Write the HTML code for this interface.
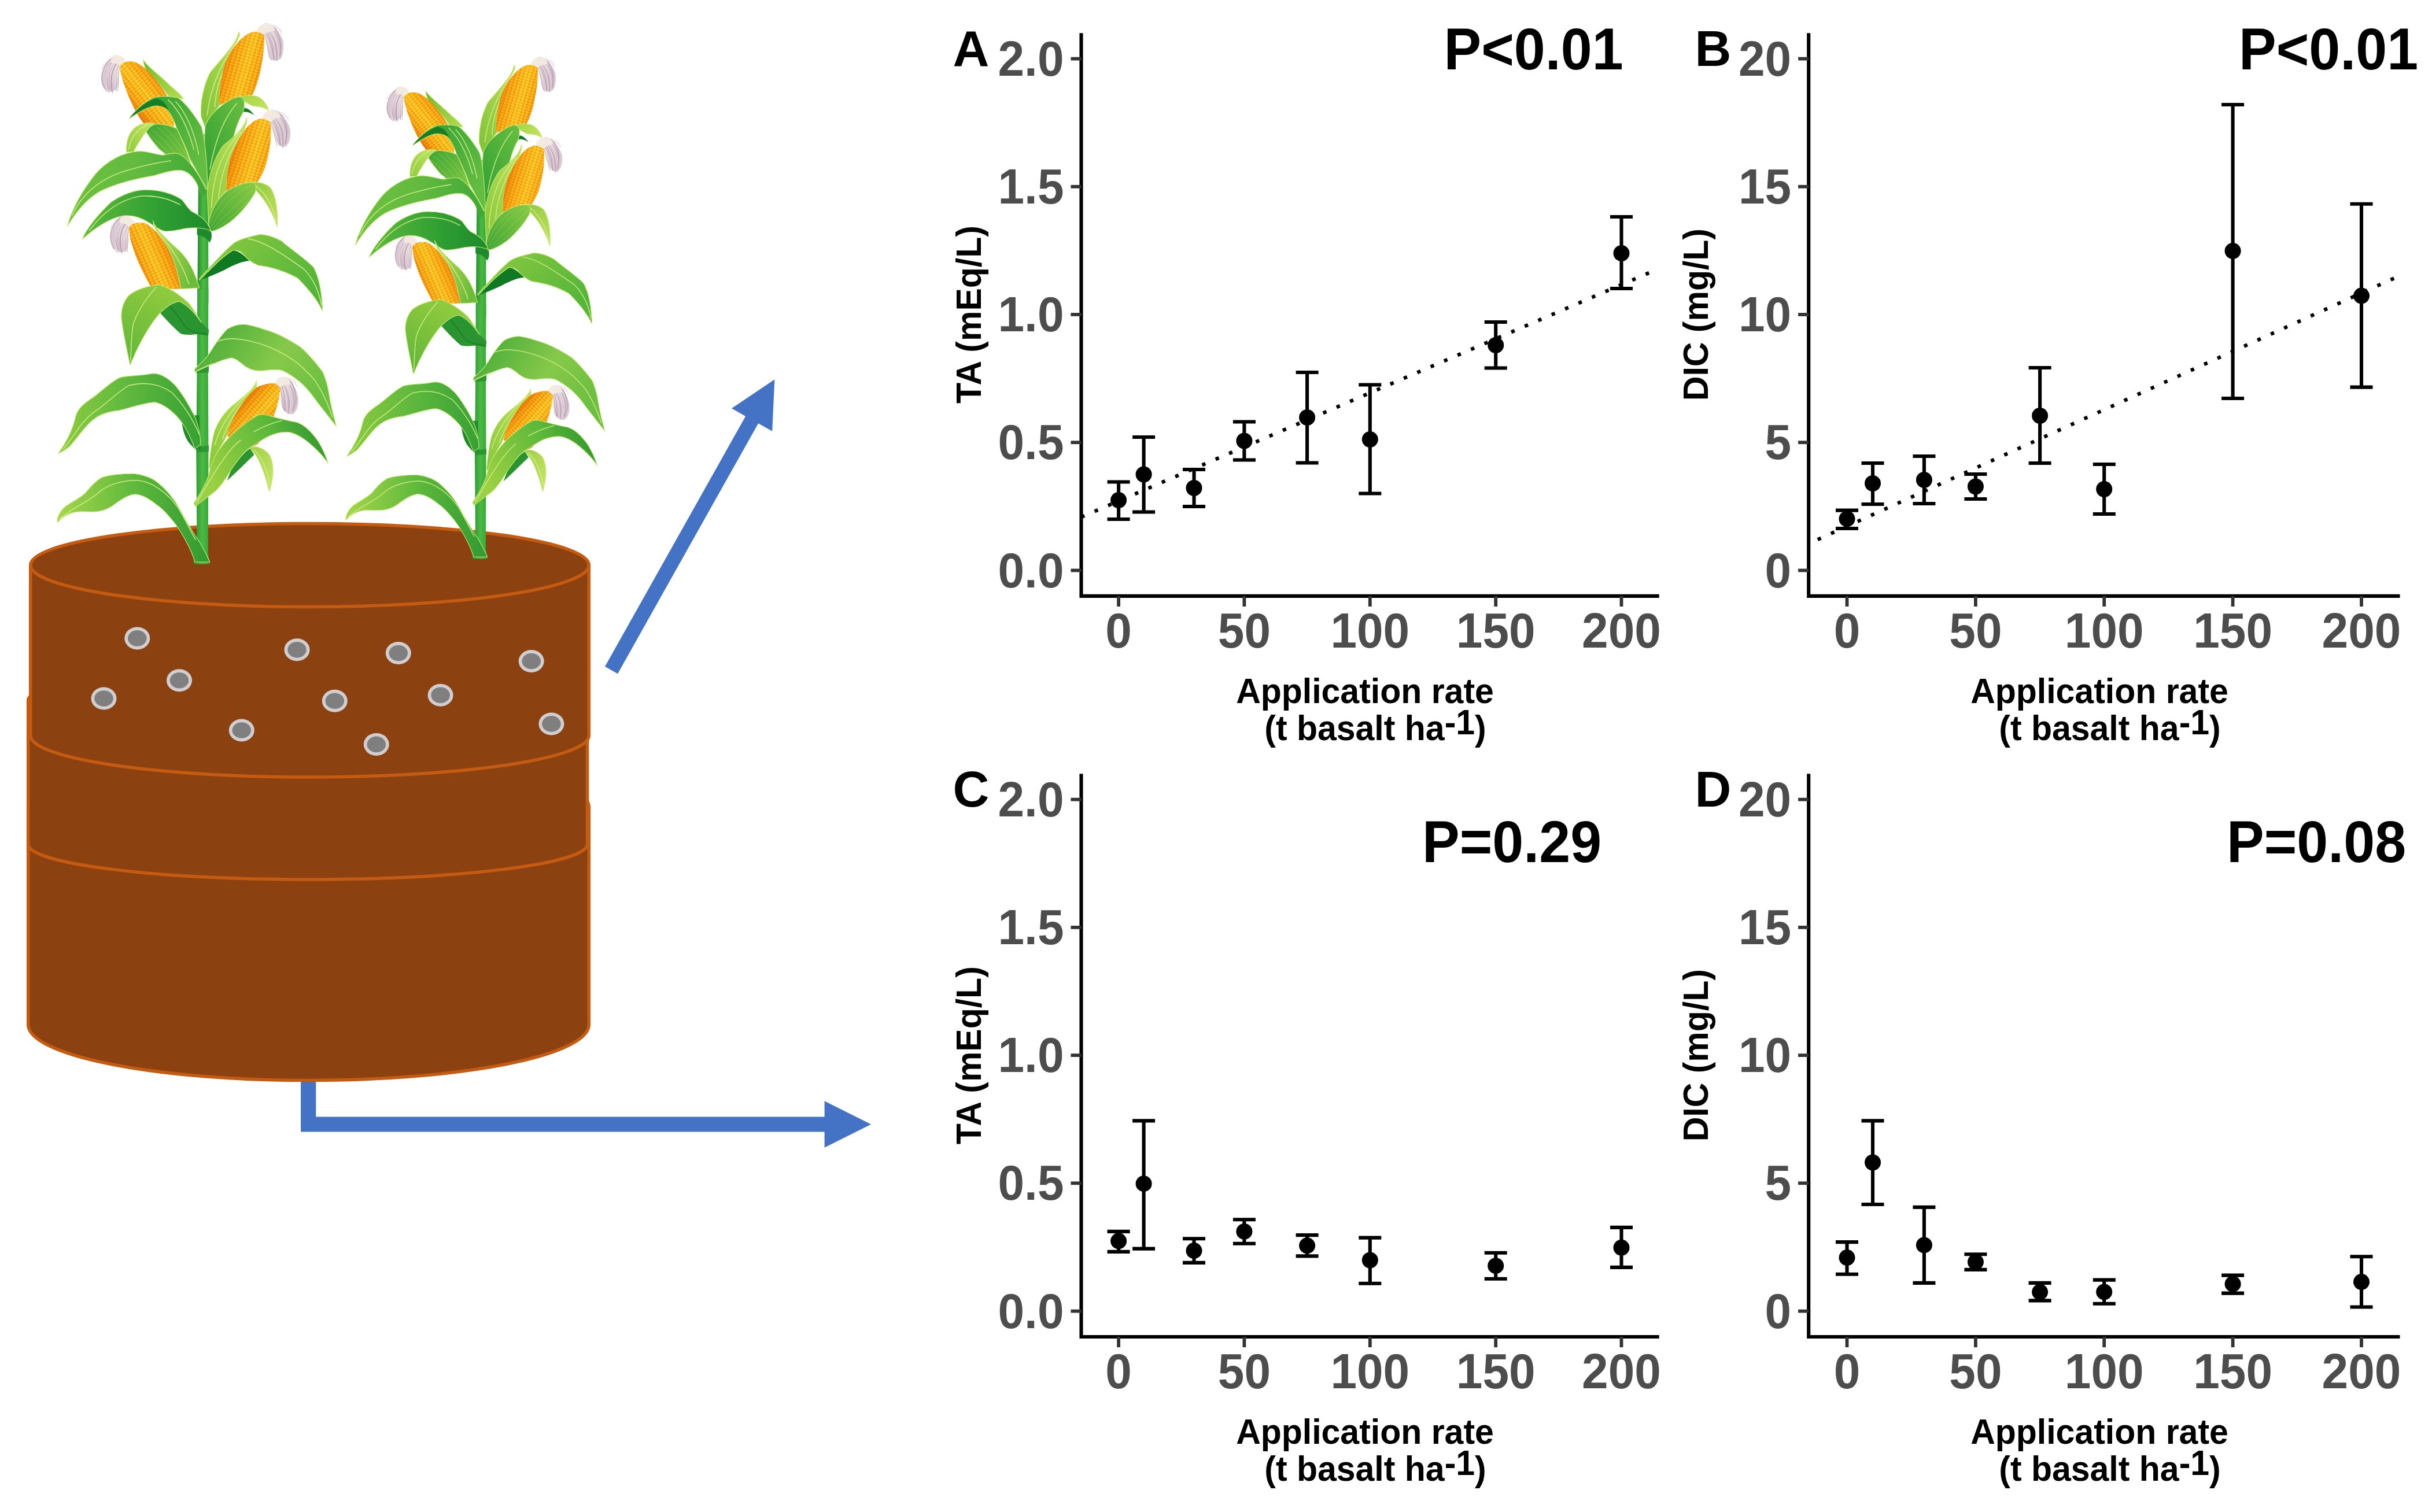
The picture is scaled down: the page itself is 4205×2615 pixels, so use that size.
<!DOCTYPE html>
<html lang="en"><head><meta charset="utf-8"><title>Figure</title>
<style>
html,body{margin:0;padding:0;background:#fff}
svg{display:block}
text{font-family:"Liberation Sans", Arial, Helvetica, sans-serif;font-weight:700}
.tk{font-size:82px;fill:#4d4d4d}
.ax{font-size:59px;fill:#000}
.sup{font-size:50px}
.pl{font-size:87px;fill:#000}
.pv{font-size:97px;fill:#000}
</style></head><body>
<svg width="4205" height="2615" viewBox="0 0 4205 2615">
<rect width="4205" height="2615" fill="#fff"/>
<defs>
<linearGradient id="g1" x1="0" y1="0" x2="1" y2="0"><stop offset="0" stop-color="#22902a"/><stop offset="0.55" stop-color="#4cb944"/><stop offset="1" stop-color="#34a636"/></linearGradient>
<linearGradient id="g2" x1="0" y1="0" x2="1" y2="1"><stop offset="0" stop-color="#6fb92f"/><stop offset="1" stop-color="#b5dc4e"/></linearGradient>
<pattern id="k3" width="7.4" height="5.4" patternUnits="userSpaceOnUse" patternTransform="rotate(-38) scale(6.0467)"><rect width="7.4" height="5.4" fill="#e8800a"/><rect x="0.55" y="0.5" width="6.3" height="4.4" rx="1.5" fill="#ffc31a"/><rect x="1.3" y="1.1" width="3.6" height="2.4" rx="1.1" fill="#ffd83a" opacity="0.7"/></pattern>
<linearGradient id="c4" gradientUnits="userSpaceOnUse" x1="760" y1="430" x2="440" y2="700"><stop offset="0" stop-color="#e06a00" stop-opacity="0.75"/><stop offset="0.28" stop-color="#f59a10" stop-opacity="0.35"/><stop offset="0.55" stop-color="#ffe23a" stop-opacity="0.35"/><stop offset="0.8" stop-color="#f59a10" stop-opacity="0.3"/><stop offset="1" stop-color="#e06a00" stop-opacity="0.7"/></linearGradient>
<radialGradient id="s5" cx="0.85" cy="0.15" r="0.8"><stop offset="0" stop-color="#f6efe4"/><stop offset="0.3" stop-color="#eadcd8"/><stop offset="0.65" stop-color="#d3bcc6"/><stop offset="1" stop-color="#c0a4b5"/></radialGradient>
<linearGradient id="g6" x1="0" y1="1" x2="1" y2="0"><stop offset="0" stop-color="#7cc237"/><stop offset="1" stop-color="#bfe058"/></linearGradient>
<pattern id="k7" width="7.4" height="5.4" patternUnits="userSpaceOnUse" patternTransform="rotate(16) scale(6.0467)"><rect width="7.4" height="5.4" fill="#e8800a"/><rect x="0.55" y="0.5" width="6.3" height="4.4" rx="1.5" fill="#ffc31a"/><rect x="1.3" y="1.1" width="3.6" height="2.4" rx="1.1" fill="#ffd83a" opacity="0.7"/></pattern>
<linearGradient id="c8" gradientUnits="userSpaceOnUse" x1="330" y1="560" x2="760" y2="680"><stop offset="0" stop-color="#e06a00" stop-opacity="0.75"/><stop offset="0.28" stop-color="#f59a10" stop-opacity="0.35"/><stop offset="0.55" stop-color="#ffe23a" stop-opacity="0.35"/><stop offset="0.8" stop-color="#f59a10" stop-opacity="0.3"/><stop offset="1" stop-color="#e06a00" stop-opacity="0.7"/></linearGradient>
<radialGradient id="s9" cx="0.12" cy="0.1" r="0.8"><stop offset="0" stop-color="#f6efe4"/><stop offset="0.3" stop-color="#eadcd8"/><stop offset="0.65" stop-color="#d3bcc6"/><stop offset="1" stop-color="#c0a4b5"/></radialGradient>
<linearGradient id="g10" x1="0" y1="0" x2="1" y2="1"><stop offset="0" stop-color="#a4d445"/><stop offset="1" stop-color="#c6e462"/></linearGradient>
<linearGradient id="g11" x1="0" y1="1" x2="1" y2="0"><stop offset="0" stop-color="#2f9e33"/><stop offset="1" stop-color="#69bf40"/></linearGradient>
<linearGradient id="g12" x1="0" y1="1" x2="1" y2="0"><stop offset="0" stop-color="#86c83a"/><stop offset="1" stop-color="#c2e25c"/></linearGradient>
<pattern id="k13" width="7.4" height="5.4" patternUnits="userSpaceOnUse" patternTransform="rotate(18) scale(6.0467)"><rect width="7.4" height="5.4" fill="#e8800a"/><rect x="0.55" y="0.5" width="6.3" height="4.4" rx="1.5" fill="#ffc31a"/><rect x="1.3" y="1.1" width="3.6" height="2.4" rx="1.1" fill="#ffd83a" opacity="0.7"/></pattern>
<linearGradient id="c14" gradientUnits="userSpaceOnUse" x1="400" y1="1560" x2="830" y2="1680"><stop offset="0" stop-color="#e06a00" stop-opacity="0.75"/><stop offset="0.28" stop-color="#f59a10" stop-opacity="0.35"/><stop offset="0.55" stop-color="#ffe23a" stop-opacity="0.35"/><stop offset="0.8" stop-color="#f59a10" stop-opacity="0.3"/><stop offset="1" stop-color="#e06a00" stop-opacity="0.7"/></linearGradient>
<radialGradient id="s15" cx="0.1" cy="0.1" r="0.8"><stop offset="0" stop-color="#f6efe4"/><stop offset="0.3" stop-color="#eadcd8"/><stop offset="0.65" stop-color="#d3bcc6"/><stop offset="1" stop-color="#c0a4b5"/></radialGradient>
<linearGradient id="g16" x1="0" y1="0" x2="1" y2="1"><stop offset="0" stop-color="#3fa535"/><stop offset="1" stop-color="#86cb43"/></linearGradient>
<linearGradient id="g17" x1="0" y1="1" x2="1" y2="0"><stop offset="0" stop-color="#8fcb3d"/><stop offset="1" stop-color="#c4e463"/></linearGradient>
<linearGradient id="g18" x1="0" y1="0" x2="1" y2="0.6"><stop offset="0" stop-color="#2c9a30"/><stop offset="1" stop-color="#63bd42"/></linearGradient>
<linearGradient id="g19" x1="0" y1="0" x2="1" y2="1"><stop offset="0" stop-color="#8cc63f"/><stop offset="1" stop-color="#c1e25e"/></linearGradient>
<linearGradient id="g20" x1="0" y1="1" x2="1" y2="0"><stop offset="0" stop-color="#3ea535"/><stop offset="1" stop-color="#8acb45"/></linearGradient>
<linearGradient id="g21" x1="0" y1="0" x2="1" y2="0"><stop offset="0" stop-color="#6cc03e"/><stop offset="0.5" stop-color="#62bb3f"/><stop offset="1" stop-color="#3fa836"/></linearGradient>
<linearGradient id="g22" x1="0" y1="0" x2="1" y2="0"><stop offset="0" stop-color="#5fba3c"/><stop offset="0.6" stop-color="#2f9f33"/><stop offset="1" stop-color="#1c8a2b"/></linearGradient>
<pattern id="k23" width="7.4" height="5.4" patternUnits="userSpaceOnUse" patternTransform="rotate(-24) scale(6.0467)"><rect width="7.4" height="5.4" fill="#e8800a"/><rect x="0.55" y="0.5" width="6.3" height="4.4" rx="1.5" fill="#ffc31a"/><rect x="1.3" y="1.1" width="3.6" height="2.4" rx="1.1" fill="#ffd83a" opacity="0.7"/></pattern>
<linearGradient id="c24" gradientUnits="userSpaceOnUse" x1="1180" y1="1150" x2="820" y2="1300"><stop offset="0" stop-color="#e06a00" stop-opacity="0.75"/><stop offset="0.28" stop-color="#f59a10" stop-opacity="0.35"/><stop offset="0.55" stop-color="#ffe23a" stop-opacity="0.35"/><stop offset="0.8" stop-color="#f59a10" stop-opacity="0.3"/><stop offset="1" stop-color="#e06a00" stop-opacity="0.7"/></linearGradient>
<radialGradient id="s25" cx="0.85" cy="0.12" r="0.8"><stop offset="0" stop-color="#f6efe4"/><stop offset="0.3" stop-color="#eadcd8"/><stop offset="0.65" stop-color="#d3bcc6"/><stop offset="1" stop-color="#c0a4b5"/></radialGradient>
<linearGradient id="g26" x1="0" y1="0" x2="1" y2="0.4"><stop offset="0" stop-color="#c2e25c"/><stop offset="1" stop-color="#6dbb3a"/></linearGradient>
<linearGradient id="g27" x1="0" y1="0" x2="1" y2="0.5"><stop offset="0" stop-color="#8fcc3f"/><stop offset="1" stop-color="#55b53b"/></linearGradient>
<linearGradient id="g28" x1="0" y1="1" x2="0.6" y2="0"><stop offset="0" stop-color="#5db53a"/><stop offset="1" stop-color="#93cc3e"/></linearGradient>
<linearGradient id="g29" x1="0" y1="0" x2="1" y2="0.5"><stop offset="0" stop-color="#3fa736"/><stop offset="0.6" stop-color="#86c94a"/><stop offset="1" stop-color="#6cbf41"/></linearGradient>
<linearGradient id="g30" x1="0" y1="0" x2="1" y2="0"><stop offset="0" stop-color="#8fcc3f"/><stop offset="0.45" stop-color="#62ba3e"/><stop offset="1" stop-color="#37a134"/></linearGradient>
<linearGradient id="g31" x1="0" y1="0" x2="1" y2="0"><stop offset="0" stop-color="#a6d64a"/><stop offset="0.5" stop-color="#5fb93c"/><stop offset="1" stop-color="#2f9a31"/></linearGradient>
<linearGradient id="g32" x1="0" y1="1" x2="1" y2="0"><stop offset="0" stop-color="#86c83a"/><stop offset="1" stop-color="#c2e25c"/></linearGradient>
<pattern id="k33" width="7.4" height="5.4" patternUnits="userSpaceOnUse" patternTransform="rotate(41) scale(6.0467)"><rect width="7.4" height="5.4" fill="#e8800a"/><rect x="0.55" y="0.5" width="6.3" height="4.4" rx="1.5" fill="#ffc31a"/><rect x="1.3" y="1.1" width="3.6" height="2.4" rx="1.1" fill="#ffd83a" opacity="0.7"/></pattern>
<linearGradient id="c34" gradientUnits="userSpaceOnUse" x1="597" y1="1255" x2="883" y2="1504"><stop offset="0" stop-color="#e06a00" stop-opacity="0.75"/><stop offset="0.28" stop-color="#f59a10" stop-opacity="0.35"/><stop offset="0.55" stop-color="#ffe23a" stop-opacity="0.35"/><stop offset="0.8" stop-color="#f59a10" stop-opacity="0.3"/><stop offset="1" stop-color="#e06a00" stop-opacity="0.7"/></linearGradient>
<radialGradient id="s35" cx="0.1" cy="0.1" r="0.8"><stop offset="0" stop-color="#f6efe4"/><stop offset="0.3" stop-color="#eadcd8"/><stop offset="0.65" stop-color="#d3bcc6"/><stop offset="1" stop-color="#c0a4b5"/></radialGradient>
<linearGradient id="g36" x1="0" y1="0" x2="1" y2="1"><stop offset="0" stop-color="#9ccf45"/><stop offset="1" stop-color="#c9e76a"/></linearGradient>
<linearGradient id="g37" x1="0" y1="0.3" x2="1" y2="0"><stop offset="0" stop-color="#9bd042"/><stop offset="0.55" stop-color="#5cb83a"/><stop offset="1" stop-color="#278f2d"/></linearGradient>
</defs>
<g id="arrows" fill="#4472c4">
<polygon points="1068.0,1165.2 1311.1,732.2 1335.2,745.8 1339.3,656.3 1265.0,706.3 1289.1,719.9 1046.0,1152.8"/>
<polygon points="520.1,1866 546.3,1866 546.3,1931.4 1425.6,1931.4 1425.6,1904.2 1506.1,1944.5 1425.6,1984.8 1425.6,1957.6 520.1,1957.6"/>
</g>
<g id="soil">
<path d="M48.7,1396 V1772 A484.79999999999995,96.5 0 0 0 1018.3,1772 V1396 A484.79999999999995,96.5 0 0 0 48.7,1396 Z" fill="#8c4110" stroke="#c55a11" stroke-width="5.5" stroke-linejoin="round"/>
<path d="M48.7,1211 V1460 A483.4,61 0 0 0 1015.5,1460 V1211 A483.4,61 0 0 0 48.7,1211 Z" fill="#8c4110" stroke="#c55a11" stroke-width="5.5" stroke-linejoin="round"/>
<path d="M52.7,977.5 V1272 A482.79999999999995,72 0 0 0 1018.3,1272 V977.5 A482.79999999999995,72 0 0 0 52.7,977.5 Z" fill="#8c4110" stroke="#c55a11" stroke-width="5.5" stroke-linejoin="round"/>
<path d="M52.7,977.5 A482.79999999999995,72 0 0 0 1018.3,977.5" fill="none" stroke="#c55a11" stroke-width="5.5"/>
<ellipse cx="237.3" cy="1103.9" rx="22" ry="19.5" fill="#d0cece"/><ellipse cx="237.3" cy="1103.9" rx="16.3" ry="13.8" fill="#7f7f7f"/>
<ellipse cx="513.5" cy="1123.7" rx="22" ry="19.5" fill="#d0cece"/><ellipse cx="513.5" cy="1123.7" rx="16.3" ry="13.8" fill="#7f7f7f"/>
<ellipse cx="688.8" cy="1129.5" rx="22" ry="19.5" fill="#d0cece"/><ellipse cx="688.8" cy="1129.5" rx="16.3" ry="13.8" fill="#7f7f7f"/>
<ellipse cx="918.7" cy="1143.5" rx="22" ry="19.5" fill="#d0cece"/><ellipse cx="918.7" cy="1143.5" rx="16.3" ry="13.8" fill="#7f7f7f"/>
<ellipse cx="310" cy="1176.8" rx="22" ry="19.5" fill="#d0cece"/><ellipse cx="310" cy="1176.8" rx="16.3" ry="13.8" fill="#7f7f7f"/>
<ellipse cx="179.5" cy="1208" rx="22" ry="19.5" fill="#d0cece"/><ellipse cx="179.5" cy="1208" rx="16.3" ry="13.8" fill="#7f7f7f"/>
<ellipse cx="578.8" cy="1212.2" rx="22" ry="19.5" fill="#d0cece"/><ellipse cx="578.8" cy="1212.2" rx="16.3" ry="13.8" fill="#7f7f7f"/>
<ellipse cx="761.6" cy="1202.3" rx="22" ry="19.5" fill="#d0cece"/><ellipse cx="761.6" cy="1202.3" rx="16.3" ry="13.8" fill="#7f7f7f"/>
<ellipse cx="417.8" cy="1263" rx="22" ry="19.5" fill="#d0cece"/><ellipse cx="417.8" cy="1263" rx="16.3" ry="13.8" fill="#7f7f7f"/>
<ellipse cx="650.8" cy="1287.4" rx="22" ry="19.5" fill="#d0cece"/><ellipse cx="650.8" cy="1287.4" rx="16.3" ry="13.8" fill="#7f7f7f"/>
<ellipse cx="953.4" cy="1251.9" rx="22" ry="19.5" fill="#d0cece"/><ellipse cx="953.4" cy="1251.9" rx="16.3" ry="13.8" fill="#7f7f7f"/>
</g>
<g id="maize1"><g transform="translate(80,20) scale(0.33068)"><path d="M797,640 L846,640 L848,1520 L790,1520 Z" fill="url(#g1)"/></g>
<g transform="translate(80,500) scale(0.33068)"><path d="M790,0 L848,0 L846,420 L848,840 L846,1380 L854,1438 L768,1438 L788,1380 L784,840 L788,420 Z" fill="url(#g1)"/></g>
<g transform="translate(100,240) scale(0.16538)"><path d="M1455,930 C1500,915 1560,925 1600,960 C1615,1010 1610,1060 1585,1085 C1560,1040 1500,1010 1455,1005 Z" fill="#1f8a2c"/></g>
<g transform="translate(80,500) scale(0.33068)"><path d="M782,408 L850,400 L849,436 L786,440 Z" fill="#2a972f"/><path d="M784,826 L850,818 L849,850 L787,854 Z" fill="#2a972f"/></g>
<g transform="translate(150,60) scale(0.16538)"><path d="M590,262 C640,340 760,420 880,540 C940,590 990,640 1012,668 L870,662 C800,560 700,450 640,400 C610,360 595,310 590,262 Z" fill="url(#g2)" stroke="#c9e878" stroke-width="6.7" stroke-linejoin="round"/></g>
<g transform="translate(150,60) scale(0.16538)"><path d="M345,325 C350,300 400,275 470,280 C560,295 650,380 720,470 C790,560 860,660 900,760 C925,830 925,900 905,968 L600,932 C540,860 470,730 420,600 C380,500 350,400 345,325 Z" fill="url(#k3)"/><path d="M345,325 C350,300 400,275 470,280 C560,295 650,380 720,470 C790,560 860,660 900,760 C925,830 925,900 905,968 L600,932 C540,860 470,730 420,600 C380,500 350,400 345,325 Z" fill="url(#c4)"/></g>
<g transform="translate(150,60) scale(0.16538)"><path d="M402,268 C380,225 320,200 275,222 C225,262 180,340 155,420 C140,500 175,570 215,596 C265,612 315,580 335,520 C345,450 322,390 347,330 Z" fill="url(#s5)" opacity="0.6"/><path d="M300,225 C190,270 114,420 186,563" fill="none" stroke="#b497ab" stroke-width="9.1" stroke-linecap="round" opacity="0.8"/><path d="M305,236 C210,283 147,428 209,598" fill="none" stroke="#d6c2cc" stroke-width="6.0" stroke-linecap="round" opacity="0.8"/><path d="M309,246 C230,296 180,436 232,569" fill="none" stroke="#a4859d" stroke-width="6.0" stroke-linecap="round" opacity="0.8"/><path d="M314,256 C228,309 177,444 224,604" fill="none" stroke="#e6d8d8" stroke-width="9.1" stroke-linecap="round" opacity="0.8"/><path d="M319,267 C248,322 210,452 247,575" fill="none" stroke="#bfa3b5" stroke-width="6.0" stroke-linecap="round" opacity="0.8"/><path d="M324,278 C268,335 243,460 270,610" fill="none" stroke="#9c7f97" stroke-width="6.0" stroke-linecap="round" opacity="0.8"/><path d="M328,288 C266,348 240,468 262,581" fill="none" stroke="#b497ab" stroke-width="9.1" stroke-linecap="round" opacity="0.8"/><path d="M333,298 C286,361 273,476 285,552" fill="none" stroke="#d6c2cc" stroke-width="6.0" stroke-linecap="round" opacity="0.8"/><path d="M338,309 C306,374 306,484 308,587" fill="none" stroke="#a4859d" stroke-width="6.0" stroke-linecap="round" opacity="0.8"/><path d="M342,320 C304,387 304,492 301,558" fill="none" stroke="#e6d8d8" stroke-width="9.1" stroke-linecap="round" opacity="0.8"/><path d="M347,330 C324,400 336,500 324,593" fill="none" stroke="#bfa3b5" stroke-width="6.0" stroke-linecap="round" opacity="0.8"/><path d="M260,260 C200,300 150,330 160,330" fill="none" stroke="#a98aa2" stroke-width="4.2" stroke-linecap="round" opacity="0.7"/><path d="M250,300 C200,320 170,350 150,352" fill="none" stroke="#a98aa2" stroke-width="4.2" stroke-linecap="round" opacity="0.7"/><path d="M402,268 C380,225 320,200 275,222 C250,245 245,275 262,300 C290,290 320,305 347,330 Z" fill="#f2eadf" opacity="0.95"/></g>
<g transform="translate(330,20) scale(0.16538)"><path d="M500,212 C485,330 330,480 200,640 C130,780 95,960 108,1100 L150,1215 L255,1040 L302,975 C290,850 310,700 360,540 C420,400 490,320 512,240 Z" fill="url(#g6)" stroke="#c9e878" stroke-width="6.7" stroke-linejoin="round"/><path d="M470,330 C330,520 210,760 170,1080" fill="none" stroke="#d6f08e" stroke-width="9.7" stroke-linecap="round" opacity="0.85"/><path d="M440,420 C330,600 260,800 250,1000" fill="none" stroke="#d6f08e" stroke-width="9.7" stroke-linecap="round" opacity="0.85"/></g>
<g transform="translate(330,20) scale(0.16538)"><path d="M300,978 C290,850 310,700 360,540 C420,400 500,290 600,232 C650,205 720,200 762,238 C776,330 756,480 722,640 C700,740 670,820 640,874 L480,905 Z" fill="url(#k7)"/><path d="M300,978 C290,850 310,700 360,540 C420,400 500,290 600,232 C650,205 720,200 762,238 C776,330 756,480 722,640 C700,740 670,820 640,874 L480,905 Z" fill="url(#c8)"/></g>
<g transform="translate(330,20) scale(0.16538)"><path d="M690,204 C700,150 760,112 820,128 C880,150 930,220 962,300 C978,380 962,460 940,492 C900,524 850,522 820,482 C800,420 795,340 765,242 Z" fill="url(#s9)" opacity="0.6"/><path d="M780,125 C890,140 969,280 931,458" fill="none" stroke="#b497ab" stroke-width="9.1" stroke-linecap="round" opacity="0.8"/><path d="M778,137 C888,159 963,294 931,495" fill="none" stroke="#d6c2cc" stroke-width="6.0" stroke-linecap="round" opacity="0.8"/><path d="M777,148 C886,178 958,308 931,468" fill="none" stroke="#a4859d" stroke-width="6.0" stroke-linecap="round" opacity="0.8"/><path d="M776,160 C862,197 917,322 900,505" fill="none" stroke="#e6d8d8" stroke-width="9.1" stroke-linecap="round" opacity="0.8"/><path d="M774,172 C860,216 911,336 900,479" fill="none" stroke="#bfa3b5" stroke-width="6.0" stroke-linecap="round" opacity="0.8"/><path d="M772,184 C858,235 905,350 900,516" fill="none" stroke="#9c7f97" stroke-width="6.0" stroke-linecap="round" opacity="0.8"/><path d="M771,195 C834,254 864,364 869,489" fill="none" stroke="#b497ab" stroke-width="9.1" stroke-linecap="round" opacity="0.8"/><path d="M770,207 C832,273 859,378 869,463" fill="none" stroke="#d6c2cc" stroke-width="6.0" stroke-linecap="round" opacity="0.8"/><path d="M768,219 C830,292 853,392 869,500" fill="none" stroke="#a4859d" stroke-width="6.0" stroke-linecap="round" opacity="0.8"/><path d="M766,230 C806,311 812,406 838,473" fill="none" stroke="#e6d8d8" stroke-width="9.1" stroke-linecap="round" opacity="0.8"/><path d="M765,242 C804,330 806,420 838,510" fill="none" stroke="#bfa3b5" stroke-width="6.0" stroke-linecap="round" opacity="0.8"/><path d="M830,140 C900,150 940,180 950,210" fill="none" stroke="#a98aa2" stroke-width="4.2" stroke-linecap="round" opacity="0.7"/><path d="M850,165 C905,170 935,195 948,235" fill="none" stroke="#a98aa2" stroke-width="4.2" stroke-linecap="round" opacity="0.7"/><path d="M690,204 C700,150 760,112 820,128 C860,140 880,170 876,205 C850,198 800,215 765,242 Z" fill="#f2eadf" opacity="0.95"/></g>
<g transform="translate(330,20) scale(0.16538)"><path d="M500,892 C560,878 640,868 700,890 C760,920 800,980 812,1032 C780,1010 720,990 660,990 C620,985 580,950 560,940 Z" fill="url(#g10)" stroke="#c9e878" stroke-width="6.7" stroke-linejoin="round"/></g>
<g transform="translate(330,20) scale(0.16538)"><path d="M520,1020 C560,985 620,1020 662,1082 C630,1060 580,1040 548,1052 Z" fill="#157a24"/></g>
<g transform="translate(330,20) scale(0.16538)"><path d="M150,1800 C140,1600 135,1400 150,1200 C180,1100 280,1000 400,930 C450,900 500,888 522,892 C560,905 570,960 548,1050 C520,1100 490,1160 470,1230 C430,1380 330,1600 200,1800 Z" fill="url(#g11)" stroke="#c9e878" stroke-width="6.7" stroke-linejoin="round"/><path d="M480,960 C360,1100 260,1300 200,1650" fill="none" stroke="#d6f08e" stroke-width="9.7" stroke-linecap="round" opacity="0.85"/></g>
<g transform="translate(330,20) scale(0.16538)"><path d="M580,1108 C575,1200 470,1300 340,1400 C250,1520 185,1700 172,1900 L186,2221 L232,2071 C290,1960 350,1890 372,1871 C370,1700 400,1520 470,1400 C520,1320 580,1220 586,1128 Z" fill="url(#g12)" stroke="#c9e878" stroke-width="6.7" stroke-linejoin="round"/><path d="M520,1260 C330,1460 230,1700 215,2050" fill="none" stroke="#d6f08e" stroke-width="9.7" stroke-linecap="round" opacity="0.85"/><path d="M545,1250 C400,1450 310,1700 290,1950" fill="none" stroke="#d6f08e" stroke-width="9.7" stroke-linecap="round" opacity="0.85"/></g>
<g transform="translate(330,20) scale(0.16538)"><path d="M372,1873 C370,1700 400,1520 470,1400 C520,1300 580,1200 640,1162 C690,1118 770,1100 832,1152 C848,1300 822,1460 790,1580 C770,1660 730,1740 692,1787 L600,1787 L500,1813 Z" fill="url(#k13)"/><path d="M372,1873 C370,1700 400,1520 470,1400 C520,1300 580,1200 640,1162 C690,1118 770,1100 832,1152 C848,1300 822,1460 790,1580 C770,1660 730,1740 692,1787 L600,1787 L500,1813 Z" fill="url(#c14)"/></g>
<g transform="translate(330,20) scale(0.16538)"><path d="M745,1107 C760,1050 830,1012 880,1034 C950,1060 1010,1140 1036,1220 C1052,1300 1032,1380 990,1412 C940,1424 900,1382 880,1320 C860,1260 850,1200 835,1160 Z" fill="url(#s15)" opacity="0.6"/><path d="M850,1030 C960,1050 1044,1200 986,1378" fill="none" stroke="#b497ab" stroke-width="9.1" stroke-linecap="round" opacity="0.8"/><path d="M848,1043 C957,1069 1038,1212 987,1412" fill="none" stroke="#d6c2cc" stroke-width="6.0" stroke-linecap="round" opacity="0.8"/><path d="M847,1056 C954,1088 1032,1224 988,1384" fill="none" stroke="#a4859d" stroke-width="6.0" stroke-linecap="round" opacity="0.8"/><path d="M846,1069 C929,1107 990,1236 959,1418" fill="none" stroke="#e6d8d8" stroke-width="9.1" stroke-linecap="round" opacity="0.8"/><path d="M844,1082 C926,1126 984,1248 960,1390" fill="none" stroke="#bfa3b5" stroke-width="6.0" stroke-linecap="round" opacity="0.8"/><path d="M842,1095 C923,1145 978,1260 961,1424" fill="none" stroke="#9c7f97" stroke-width="6.0" stroke-linecap="round" opacity="0.8"/><path d="M841,1108 C898,1164 936,1272 932,1396" fill="none" stroke="#b497ab" stroke-width="9.1" stroke-linecap="round" opacity="0.8"/><path d="M840,1121 C895,1183 930,1284 933,1368" fill="none" stroke="#d6c2cc" stroke-width="6.0" stroke-linecap="round" opacity="0.8"/><path d="M838,1134 C892,1202 924,1296 934,1402" fill="none" stroke="#a4859d" stroke-width="6.0" stroke-linecap="round" opacity="0.8"/><path d="M836,1147 C867,1221 883,1308 904,1374" fill="none" stroke="#e6d8d8" stroke-width="9.1" stroke-linecap="round" opacity="0.8"/><path d="M835,1160 C864,1240 876,1320 906,1408" fill="none" stroke="#bfa3b5" stroke-width="6.0" stroke-linecap="round" opacity="0.8"/><path d="M880,1040 C950,1050 1000,1080 1020,1110" fill="none" stroke="#a98aa2" stroke-width="4.2" stroke-linecap="round" opacity="0.7"/><path d="M900,1065 C960,1075 1000,1100 1025,1140" fill="none" stroke="#a98aa2" stroke-width="4.2" stroke-linecap="round" opacity="0.7"/><path d="M745,1107 C760,1050 830,1012 880,1034 C920,1048 940,1080 935,1110 C900,1105 860,1125 835,1160 Z" fill="#f2eadf" opacity="0.95"/></g>
<g transform="translate(150,60) scale(0.16538)"><path d="M620,1012 C660,960 700,925 760,935 C850,945 900,958 942,982 C1000,1100 1080,1300 1110,1420 L1040,1440 C960,1380 860,1270 760,1200 C700,1130 650,1070 620,1012 Z" fill="url(#g16)" stroke="#c9e878" stroke-width="6.7" stroke-linejoin="round"/></g>
<g transform="translate(150,60) scale(0.16538)"><path d="M680,1000 C800,1080 920,1220 1020,1380" fill="none" stroke="#c0e46c" stroke-width="4.8" stroke-linecap="round" opacity="0.6"/><path d="M740,970 C860,1060 960,1200 1060,1360" fill="none" stroke="#c0e46c" stroke-width="4.8" stroke-linecap="round" opacity="0.6"/><path d="M650,1040 C760,1120 860,1240 960,1380" fill="none" stroke="#c0e46c" stroke-width="4.8" stroke-linecap="round" opacity="0.6"/><path d="M800,960 C900,1040 1000,1180 1080,1330" fill="none" stroke="#c0e46c" stroke-width="4.8" stroke-linecap="round" opacity="0.6"/></g>
<g transform="translate(150,60) scale(0.16538)"><path d="M415,1228 C410,1100 450,1010 520,960 C580,925 650,915 702,925 C660,960 620,1010 580,1070 C540,1130 510,1180 492,1222 Z" fill="url(#g17)" stroke="#c9e878" stroke-width="6.7" stroke-linejoin="round"/><path d="M440,1200 C450,1090 520,990 640,935" fill="none" stroke="#d6f08e" stroke-width="9.7" stroke-linecap="round" opacity="0.85"/></g>
<g transform="translate(150,60) scale(0.16538)"><path d="M445,876 C520,770 620,690 720,652 C800,640 900,645 960,662 C1060,740 1150,880 1200,962 C1235,1100 1258,1300 1264,1625 C1230,1570 1160,1450 1080,1300 C1040,1180 980,1060 940,980 C910,880 860,790 790,742 C700,735 600,770 445,876 Z" fill="url(#g18)" stroke="#c9e878" stroke-width="6.7" stroke-linejoin="round"/><path d="M930,700 C1040,820 1120,1000 1170,1250" fill="none" stroke="#d6f08e" stroke-width="9.7" stroke-linecap="round" opacity="0.85"/><path d="M850,680 C980,800 1060,980 1120,1200" fill="none" stroke="#d6f08e" stroke-width="9.7" stroke-linecap="round" opacity="0.85"/></g>
<g transform="translate(150,60) scale(0.16538)"><path d="M445,876 C520,780 620,700 720,668 C780,670 830,720 856,790 C800,745 740,735 680,745 C600,770 520,820 445,876 Z" fill="#187d25"/></g>
<g transform="translate(330,250) scale(0.16538)"><path d="M590,396 C680,384 780,400 832,452 C892,540 912,700 902,858 C872,760 800,600 690,490 C660,440 620,410 590,396 Z" fill="url(#g19)" stroke="#c9e878" stroke-width="6.7" stroke-linejoin="round"/><path d="M640,410 C760,470 860,640 890,800" fill="none" stroke="#d6f08e" stroke-width="9.7" stroke-linecap="round" opacity="0.85"/></g>
<g transform="translate(330,250) scale(0.16538)"><path d="M185,832 C200,700 280,560 380,482 C460,430 560,396 640,396 C682,402 692,442 672,502 C620,600 520,720 420,802 C340,862 260,902 205,908 Z" fill="url(#g20)" stroke="#c9e878" stroke-width="6.7" stroke-linejoin="round"/></g>
<g transform="translate(330,250) scale(0.16538)"><path d="M215,860 C300,700 440,520 620,430" fill="none" stroke="#bfe36a" stroke-width="4.8" stroke-linecap="round" opacity="0.55"/><path d="M230,880 C340,760 500,600 650,470" fill="none" stroke="#bfe36a" stroke-width="4.8" stroke-linecap="round" opacity="0.55"/><path d="M200,820 C260,660 380,520 520,440" fill="none" stroke="#bfe36a" stroke-width="4.8" stroke-linecap="round" opacity="0.55"/><path d="M260,885 C380,800 540,660 660,520" fill="none" stroke="#bfe36a" stroke-width="4.8" stroke-linecap="round" opacity="0.55"/></g>
<g transform="translate(100,240) scale(0.16538)"><path d="M100,915 C140,760 240,560 400,360 C520,230 680,140 850,130 C950,130 1040,170 1100,170 C1160,160 1220,140 1270,160 C1360,200 1470,360 1549,531 C1554,566 1542,592 1512,596 C1488,590 1474,560 1466,500 C1440,430 1380,350 1300,332 C1200,320 1100,360 1000,386 C800,420 600,470 440,550 C300,630 180,780 100,915 Z" fill="url(#g21)"/><path d="M1549,531 C1470,360 1360,200 1270,160 C1220,140 1160,160 1100,170 C1040,170 950,130 850,130 C680,140 520,230 400,360 C240,560 140,760 100,915 C180,780 300,630 440,550 C600,470 800,420 1000,386 C1100,360 1200,320 1300,332 C1380,350 1440,430 1466,500" fill="none" stroke="#c9e878" stroke-width="6.7" stroke-linejoin="round" stroke-linecap="round"/><path d="M150,800 C260,560 460,400 760,320 C900,280 1040,250 1180,230" fill="none" stroke="#d6f08e" stroke-width="9.7" stroke-linecap="round" opacity="0.85"/></g>
<g transform="translate(100,240) scale(0.16538)"><path d="M255,1050 C300,940 420,790 560,660 C680,580 800,540 900,535 C1050,530 1200,570 1300,640 C1340,690 1360,730 1400,760 C1480,800 1560,850 1600,962 C1520,927 1420,927 1340,937 C1260,952 1180,972 1120,967 C1060,960 1000,900 940,870 C860,820 760,790 660,810 C520,840 380,940 255,1050 Z" fill="url(#g22)" stroke="#c9e878" stroke-width="6.7" stroke-linejoin="round"/><path d="M330,960 C460,780 640,640 860,600 C1000,590 1150,620 1280,690" fill="none" stroke="#d6f08e" stroke-width="9.7" stroke-linecap="round" opacity="0.85"/></g>
<g transform="translate(100,240) scale(0.16538)"><path d="M745,925 C760,890 830,868 900,880 C960,895 1040,980 1100,1060 C1180,1170 1240,1300 1265,1420 L1285,1570 L985,1570 C900,1420 820,1260 780,1120 C755,1040 745,980 745,925 Z" fill="url(#k23)"/><path d="M745,925 C760,890 830,868 900,880 C960,895 1040,980 1100,1060 C1180,1170 1240,1300 1265,1420 L1285,1570 L985,1570 C900,1420 820,1260 780,1120 C755,1040 745,980 745,925 Z" fill="url(#c24)"/></g>
<g transform="translate(100,240) scale(0.16538)"><path d="M800,876 C780,820 720,795 670,810 C620,830 580,900 555,980 C540,1060 570,1140 620,1180 C680,1200 720,1180 735,1120 C745,1060 740,990 745,925 Z" fill="url(#s25)" opacity="0.6"/><path d="M690,805 C580,850 504,1010 586,1153" fill="none" stroke="#b497ab" stroke-width="9.1" stroke-linecap="round" opacity="0.8"/><path d="M696,817 C601,865 536,1018 609,1188" fill="none" stroke="#d6c2cc" stroke-width="6.0" stroke-linecap="round" opacity="0.8"/><path d="M701,829 C622,880 569,1026 633,1159" fill="none" stroke="#a4859d" stroke-width="6.0" stroke-linecap="round" opacity="0.8"/><path d="M706,841 C621,895 566,1034 625,1194" fill="none" stroke="#e6d8d8" stroke-width="9.1" stroke-linecap="round" opacity="0.8"/><path d="M712,853 C642,910 598,1042 649,1165" fill="none" stroke="#bfa3b5" stroke-width="6.0" stroke-linecap="round" opacity="0.8"/><path d="M718,865 C663,925 630,1050 672,1200" fill="none" stroke="#9c7f97" stroke-width="6.0" stroke-linecap="round" opacity="0.8"/><path d="M723,877 C662,940 627,1058 665,1171" fill="none" stroke="#b497ab" stroke-width="9.1" stroke-linecap="round" opacity="0.8"/><path d="M728,889 C683,955 660,1066 688,1142" fill="none" stroke="#d6c2cc" stroke-width="6.0" stroke-linecap="round" opacity="0.8"/><path d="M734,901 C704,970 692,1074 712,1177" fill="none" stroke="#a4859d" stroke-width="6.0" stroke-linecap="round" opacity="0.8"/><path d="M740,913 C703,985 689,1082 704,1148" fill="none" stroke="#e6d8d8" stroke-width="9.1" stroke-linecap="round" opacity="0.8"/><path d="M745,925 C724,1000 721,1090 728,1183" fill="none" stroke="#bfa3b5" stroke-width="6.0" stroke-linecap="round" opacity="0.8"/><path d="M660,820 C600,850 560,900 555,930" fill="none" stroke="#a98aa2" stroke-width="4.2" stroke-linecap="round" opacity="0.7"/><path d="M650,850 C600,870 575,905 560,950" fill="none" stroke="#a98aa2" stroke-width="4.2" stroke-linecap="round" opacity="0.7"/><path d="M800,876 C780,820 720,795 670,810 C645,825 640,860 655,885 C690,880 720,895 745,925 Z" fill="#f2eadf" opacity="0.95"/></g>
<g transform="translate(100,240) scale(0.16538)"><path d="M995,858 C1020,950 1140,1050 1280,1180 C1380,1280 1440,1420 1480,1560 L1285,1570 C1260,1400 1200,1200 1100,1060 C1050,1000 1010,950 995,858 Z" fill="url(#g26)" stroke="#c9e878" stroke-width="6.7" stroke-linejoin="round"/><path d="M1030,960 C1160,1100 1300,1300 1370,1520" fill="none" stroke="#d6f08e" stroke-width="9.7" stroke-linecap="round" opacity="0.85"/></g>
<g transform="translate(330,250) scale(0.16538)"><path d="M130,1392 C190,1320 300,1200 440,1105 C500,1108 570,1170 612,1216 C560,1222 500,1232 350,1312 C280,1345 200,1380 90,1418 Z" fill="#0f7a22"/></g>
<g transform="translate(330,250) scale(0.16538)"><path d="M90,1402 C200,1280 330,1130 450,1030 C520,985 600,968 720,940 C780,940 850,955 950,1010 C1050,1100 1180,1180 1280,1280 C1340,1380 1370,1560 1377,1741 C1330,1640 1250,1530 1120,1400 C1000,1330 850,1280 700,1262 C650,1240 610,1216 570,1170 C530,1120 480,1100 440,1105 C330,1170 200,1300 90,1418 Z" fill="url(#g27)" stroke="#c9e878" stroke-width="6.7" stroke-linejoin="round"/><path d="M600,985 C800,1020 1000,1180 1180,1300 C1280,1400 1340,1540 1365,1680" fill="none" stroke="#d6f08e" stroke-width="9.7" stroke-linecap="round" opacity="0.85"/></g>
<g transform="translate(90,480) scale(0.16538)"><path d="M1130,370 C1200,300 1280,250 1340,250 C1420,290 1500,380 1560,470 L1640,545 L1632,614 C1590,600 1530,590 1480,595 C1430,602 1380,598 1350,590 C1300,550 1200,450 1130,370 Z" fill="#2a9430"/><path d="M1230,300 C1300,370 1360,470 1400,520 C1450,570 1540,585 1622,590" fill="none" stroke="#1a7a25" stroke-width="9"/></g>
<g transform="translate(90,480) scale(0.16538)"><path d="M815,915 C790,780 745,600 725,420 C722,340 740,260 800,190 C870,130 1000,85 1120,75 C1200,95 1330,170 1430,270 C1480,330 1530,420 1560,470 C1500,380 1420,290 1330,250 C1270,255 1200,300 1130,370 C1050,460 950,620 870,790 C850,840 830,880 815,915 Z" fill="url(#g28)" stroke="#c9e878" stroke-width="6.7" stroke-linejoin="round"/><path d="M1090,100 C1000,200 900,340 850,480 C825,600 830,760 820,870" fill="none" stroke="#d6f08e" stroke-width="9.7" stroke-linecap="round" opacity="0.85"/></g>
<g transform="translate(330,480) scale(0.16538)"><path d="M40,990 C100,960 170,930 220,910 C270,885 330,858 420,840 C470,845 520,890 570,930 C620,965 680,978 740,975 C800,970 870,955 950,970 C1030,1000 1100,1060 1150,1100 C1230,1170 1290,1260 1320,1300 C1390,1390 1460,1480 1521,1556 C1490,1440 1465,1340 1450,1250 C1440,1180 1420,1080 1380,990 C1330,920 1230,800 1150,730 C1060,670 930,600 850,570 C760,540 650,500 560,490 C500,488 430,510 380,540 C330,590 280,660 240,720 C200,790 150,860 100,900 C70,930 50,950 40,960 Z" fill="url(#g29)" stroke="#c9e878" stroke-width="6.7" stroke-linejoin="round"/><path d="M290,665 C400,615 600,645 800,720 C1000,800 1150,900 1300,1080 C1380,1200 1440,1340 1480,1460" fill="none" stroke="#d6f08e" stroke-width="9.7" stroke-linecap="round" opacity="0.85"/><path d="M45,985 C110,950 170,925 230,900" fill="none" stroke="#d6f08e" stroke-width="9.7" stroke-linecap="round" opacity="0.85"/></g>
<g transform="translate(90,720) scale(0.16538)"><path d="M1350,-10 C1360,100 1370,180 1420,260 C1450,300 1480,330 1500,346 L1548,340 L1540,-10 Z" fill="#1f8a2c"/></g>
<g transform="translate(90,480) scale(0.16538)"><path d="M65,1841 C150,1720 210,1600 240,1480 C255,1400 290,1345 420,1260 C520,1190 600,1100 700,1050 C780,1020 900,1035 1040,1005 C1120,995 1200,1040 1280,1120 C1360,1210 1440,1350 1500,1470 C1530,1560 1556,1660 1552,1748 L1492,1792 C1460,1700 1400,1560 1330,1480 C1260,1400 1180,1330 1080,1305 C1000,1300 860,1350 700,1390 C600,1400 500,1430 440,1480 C360,1530 280,1660 180,1770 C140,1800 100,1825 65,1841 Z" fill="url(#g30)" stroke="#c9e878" stroke-width="6.7" stroke-linejoin="round"/><path d="M120,1790 C230,1660 290,1530 420,1420 C560,1330 680,1200 800,1130 C950,1090 1100,1100 1250,1200 C1380,1330 1470,1480 1540,1640" fill="none" stroke="#d6f08e" stroke-width="9.7" stroke-linecap="round" opacity="0.85"/></g>
<g transform="translate(90,720) scale(0.16538)"><path d="M55,1110 C50,1050 90,990 130,950 C200,900 300,850 350,800 C400,740 450,680 520,640 C600,610 760,598 860,600 C960,610 1050,650 1100,690 C1200,770 1280,870 1340,980 C1400,1090 1460,1200 1540,1310 L1600,1420 L1650,1524 L1492,1524 C1474,1440 1400,1290 1320,1170 C1260,1080 1160,970 1100,930 C1040,880 950,820 870,815 C800,820 740,860 680,900 C620,950 560,985 480,995 C400,1005 300,990 250,1000 C180,1010 110,1050 55,1110 Z" fill="url(#g31)" stroke="#c9e878" stroke-width="6.7" stroke-linejoin="round"/><path d="M80,1075 C200,960 380,900 520,770 C640,690 800,665 900,670 C1050,690 1200,790 1320,960 C1380,1060 1440,1180 1500,1290" fill="none" stroke="#d6f08e" stroke-width="9.7" stroke-linecap="round" opacity="0.85"/></g>
<g transform="translate(330,480) scale(0.16538)"><path d="M685,1080 C670,1160 540,1250 400,1370 C330,1440 280,1520 250,1600 C220,1700 200,1850 190,1990 L215,2010 C240,1900 300,1780 340,1720 C390,1640 400,1560 430,1512 C480,1400 580,1260 690,1150 Z" fill="url(#g32)" stroke="#c9e878" stroke-width="6.7" stroke-linejoin="round"/><path d="M640,1170 C480,1320 320,1500 250,1750" fill="none" stroke="#d6f08e" stroke-width="9.7" stroke-linecap="round" opacity="0.85"/><path d="M660,1175 C520,1330 400,1480 330,1690" fill="none" stroke="#d6f08e" stroke-width="9.7" stroke-linecap="round" opacity="0.85"/></g>
<g transform="translate(330,480) scale(0.16538)"><path d="M690,1150 C760,1112 840,1098 900,1110 C925,1120 937,1135 935,1150 C930,1250 900,1360 860,1470 C820,1560 760,1680 700,1740 L640,1770 L380,1660 C390,1560 480,1390 580,1260 C620,1210 660,1170 690,1150 Z" fill="url(#k33)"/><path d="M690,1150 C760,1112 840,1098 900,1110 C925,1120 937,1135 935,1150 C930,1250 900,1360 860,1470 C820,1560 760,1680 700,1740 L640,1770 L380,1660 C390,1560 480,1390 580,1260 C620,1210 660,1170 690,1150 Z" fill="url(#c34)"/></g>
<g transform="translate(330,480) scale(0.16538)"><path d="M880,1105 C890,1060 940,1030 990,1040 C1050,1060 1100,1150 1120,1250 C1130,1330 1110,1400 1070,1425 C1020,1440 970,1410 950,1350 C935,1280 940,1200 935,1150 Z" fill="url(#s35)" opacity="0.6"/><path d="M990,1045 C1090,1100 1134,1280 1066,1393" fill="none" stroke="#b497ab" stroke-width="9.1" stroke-linecap="round" opacity="0.8"/><path d="M983,1058 C1079,1116 1121,1284 1063,1424" fill="none" stroke="#d6c2cc" stroke-width="6.0" stroke-linecap="round" opacity="0.8"/><path d="M976,1071 C1067,1132 1108,1288 1060,1392" fill="none" stroke="#a4859d" stroke-width="6.0" stroke-linecap="round" opacity="0.8"/><path d="M969,1084 C1034,1149 1060,1291 1026,1423" fill="none" stroke="#e6d8d8" stroke-width="9.1" stroke-linecap="round" opacity="0.8"/><path d="M962,1098 C1022,1165 1048,1295 1022,1391" fill="none" stroke="#bfa3b5" stroke-width="6.0" stroke-linecap="round" opacity="0.8"/><path d="M956,1111 C1011,1181 1035,1299 1019,1422" fill="none" stroke="#9c7f97" stroke-width="6.0" stroke-linecap="round" opacity="0.8"/><path d="M949,1124 C978,1198 987,1302 985,1390" fill="none" stroke="#b497ab" stroke-width="9.1" stroke-linecap="round" opacity="0.8"/><path d="M942,1137 C966,1214 974,1306 982,1358" fill="none" stroke="#d6c2cc" stroke-width="6.0" stroke-linecap="round" opacity="0.8"/><path d="M935,1150 C955,1230 961,1310 979,1389" fill="none" stroke="#a4859d" stroke-width="6.0" stroke-linecap="round" opacity="0.8"/><path d="M1000,1050 C1060,1060 1090,1080 1100,1100" fill="none" stroke="#a98aa2" stroke-width="4.2" stroke-linecap="round" opacity="0.7"/><path d="M1020,1075 C1075,1090 1100,1110 1115,1140" fill="none" stroke="#a98aa2" stroke-width="4.2" stroke-linecap="round" opacity="0.7"/><path d="M880,1105 C890,1060 940,1030 990,1040 C1030,1055 1045,1090 1040,1125 C1000,1115 960,1125 935,1150 Z" fill="#f2eadf" opacity="0.95"/></g>
<g transform="translate(330,720) scale(0.16538)"><path d="M380,672 C460,600 580,480 662,402 L620,335 C560,370 480,460 420,560 Z" fill="#2a9430"/></g>
<g transform="translate(330,720) scale(0.16538)"><path d="M615,330 C680,300 760,330 820,400 C860,480 865,580 850,660 C840,720 830,760 820,786 C800,700 760,560 700,440 C670,390 640,350 615,330 Z" fill="url(#g36)" stroke="#c9e878" stroke-width="6.7" stroke-linejoin="round"/><path d="M660,350 C740,420 800,560 825,720" fill="none" stroke="#d6f08e" stroke-width="9.7" stroke-linecap="round" opacity="0.85"/></g>
<g transform="translate(330,720) scale(0.16538)"><path d="M30,912 C120,780 180,660 200,560 C220,450 300,320 440,180 C540,90 640,20 700,-11 C740,-20 780,-18 800,-11 C880,10 1000,45 1100,61 C1180,85 1260,160 1330,260 C1380,340 1420,440 1435,495 C1390,420 1300,330 1200,250 C1130,200 1060,165 1000,165 C930,165 860,185 800,215 C730,255 660,300 600,340 C530,400 460,500 420,560 C380,630 320,720 260,780 C200,830 120,880 50,942 Z" fill="url(#g37)" stroke="#c9e878" stroke-width="6.7" stroke-linejoin="round"/><path d="M60,905 C180,700 280,520 400,370 C440,320 480,280 520,250" fill="none" stroke="#d6f08e" stroke-width="9.7" stroke-linecap="round" opacity="0.85"/><path d="M660,160 C760,105 860,65 950,45" fill="none" stroke="#d6f08e" stroke-width="9.7" stroke-linecap="round" opacity="0.85"/></g></g>
<g id="maize2" transform="translate(506.1,61.2) scale(0.928)"><g transform="translate(80,20) scale(0.33068)"><path d="M797,640 L846,640 L848,1520 L790,1520 Z" fill="url(#g1)"/></g>
<g transform="translate(80,500) scale(0.33068)"><path d="M790,0 L848,0 L846,420 L848,840 L846,1380 L854,1438 L768,1438 L788,1380 L784,840 L788,420 Z" fill="url(#g1)"/></g>
<g transform="translate(100,240) scale(0.16538)"><path d="M1455,930 C1500,915 1560,925 1600,960 C1615,1010 1610,1060 1585,1085 C1560,1040 1500,1010 1455,1005 Z" fill="#1f8a2c"/></g>
<g transform="translate(80,500) scale(0.33068)"><path d="M782,408 L850,400 L849,436 L786,440 Z" fill="#2a972f"/><path d="M784,826 L850,818 L849,850 L787,854 Z" fill="#2a972f"/></g>
<g transform="translate(150,60) scale(0.16538)"><path d="M590,262 C640,340 760,420 880,540 C940,590 990,640 1012,668 L870,662 C800,560 700,450 640,400 C610,360 595,310 590,262 Z" fill="url(#g2)" stroke="#c9e878" stroke-width="6.7" stroke-linejoin="round"/></g>
<g transform="translate(150,60) scale(0.16538)"><path d="M345,325 C350,300 400,275 470,280 C560,295 650,380 720,470 C790,560 860,660 900,760 C925,830 925,900 905,968 L600,932 C540,860 470,730 420,600 C380,500 350,400 345,325 Z" fill="url(#k3)"/><path d="M345,325 C350,300 400,275 470,280 C560,295 650,380 720,470 C790,560 860,660 900,760 C925,830 925,900 905,968 L600,932 C540,860 470,730 420,600 C380,500 350,400 345,325 Z" fill="url(#c4)"/></g>
<g transform="translate(150,60) scale(0.16538)"><path d="M402,268 C380,225 320,200 275,222 C225,262 180,340 155,420 C140,500 175,570 215,596 C265,612 315,580 335,520 C345,450 322,390 347,330 Z" fill="url(#s5)" opacity="0.6"/><path d="M300,225 C190,270 114,420 186,563" fill="none" stroke="#b497ab" stroke-width="9.1" stroke-linecap="round" opacity="0.8"/><path d="M305,236 C210,283 147,428 209,598" fill="none" stroke="#d6c2cc" stroke-width="6.0" stroke-linecap="round" opacity="0.8"/><path d="M309,246 C230,296 180,436 232,569" fill="none" stroke="#a4859d" stroke-width="6.0" stroke-linecap="round" opacity="0.8"/><path d="M314,256 C228,309 177,444 224,604" fill="none" stroke="#e6d8d8" stroke-width="9.1" stroke-linecap="round" opacity="0.8"/><path d="M319,267 C248,322 210,452 247,575" fill="none" stroke="#bfa3b5" stroke-width="6.0" stroke-linecap="round" opacity="0.8"/><path d="M324,278 C268,335 243,460 270,610" fill="none" stroke="#9c7f97" stroke-width="6.0" stroke-linecap="round" opacity="0.8"/><path d="M328,288 C266,348 240,468 262,581" fill="none" stroke="#b497ab" stroke-width="9.1" stroke-linecap="round" opacity="0.8"/><path d="M333,298 C286,361 273,476 285,552" fill="none" stroke="#d6c2cc" stroke-width="6.0" stroke-linecap="round" opacity="0.8"/><path d="M338,309 C306,374 306,484 308,587" fill="none" stroke="#a4859d" stroke-width="6.0" stroke-linecap="round" opacity="0.8"/><path d="M342,320 C304,387 304,492 301,558" fill="none" stroke="#e6d8d8" stroke-width="9.1" stroke-linecap="round" opacity="0.8"/><path d="M347,330 C324,400 336,500 324,593" fill="none" stroke="#bfa3b5" stroke-width="6.0" stroke-linecap="round" opacity="0.8"/><path d="M260,260 C200,300 150,330 160,330" fill="none" stroke="#a98aa2" stroke-width="4.2" stroke-linecap="round" opacity="0.7"/><path d="M250,300 C200,320 170,350 150,352" fill="none" stroke="#a98aa2" stroke-width="4.2" stroke-linecap="round" opacity="0.7"/><path d="M402,268 C380,225 320,200 275,222 C250,245 245,275 262,300 C290,290 320,305 347,330 Z" fill="#f2eadf" opacity="0.95"/></g>
<g transform="translate(330,20) scale(0.16538)"><path d="M500,212 C485,330 330,480 200,640 C130,780 95,960 108,1100 L150,1215 L255,1040 L302,975 C290,850 310,700 360,540 C420,400 490,320 512,240 Z" fill="url(#g6)" stroke="#c9e878" stroke-width="6.7" stroke-linejoin="round"/><path d="M470,330 C330,520 210,760 170,1080" fill="none" stroke="#d6f08e" stroke-width="9.7" stroke-linecap="round" opacity="0.85"/><path d="M440,420 C330,600 260,800 250,1000" fill="none" stroke="#d6f08e" stroke-width="9.7" stroke-linecap="round" opacity="0.85"/></g>
<g transform="translate(330,20) scale(0.16538)"><path d="M300,978 C290,850 310,700 360,540 C420,400 500,290 600,232 C650,205 720,200 762,238 C776,330 756,480 722,640 C700,740 670,820 640,874 L480,905 Z" fill="url(#k7)"/><path d="M300,978 C290,850 310,700 360,540 C420,400 500,290 600,232 C650,205 720,200 762,238 C776,330 756,480 722,640 C700,740 670,820 640,874 L480,905 Z" fill="url(#c8)"/></g>
<g transform="translate(330,20) scale(0.16538)"><path d="M690,204 C700,150 760,112 820,128 C880,150 930,220 962,300 C978,380 962,460 940,492 C900,524 850,522 820,482 C800,420 795,340 765,242 Z" fill="url(#s9)" opacity="0.6"/><path d="M780,125 C890,140 969,280 931,458" fill="none" stroke="#b497ab" stroke-width="9.1" stroke-linecap="round" opacity="0.8"/><path d="M778,137 C888,159 963,294 931,495" fill="none" stroke="#d6c2cc" stroke-width="6.0" stroke-linecap="round" opacity="0.8"/><path d="M777,148 C886,178 958,308 931,468" fill="none" stroke="#a4859d" stroke-width="6.0" stroke-linecap="round" opacity="0.8"/><path d="M776,160 C862,197 917,322 900,505" fill="none" stroke="#e6d8d8" stroke-width="9.1" stroke-linecap="round" opacity="0.8"/><path d="M774,172 C860,216 911,336 900,479" fill="none" stroke="#bfa3b5" stroke-width="6.0" stroke-linecap="round" opacity="0.8"/><path d="M772,184 C858,235 905,350 900,516" fill="none" stroke="#9c7f97" stroke-width="6.0" stroke-linecap="round" opacity="0.8"/><path d="M771,195 C834,254 864,364 869,489" fill="none" stroke="#b497ab" stroke-width="9.1" stroke-linecap="round" opacity="0.8"/><path d="M770,207 C832,273 859,378 869,463" fill="none" stroke="#d6c2cc" stroke-width="6.0" stroke-linecap="round" opacity="0.8"/><path d="M768,219 C830,292 853,392 869,500" fill="none" stroke="#a4859d" stroke-width="6.0" stroke-linecap="round" opacity="0.8"/><path d="M766,230 C806,311 812,406 838,473" fill="none" stroke="#e6d8d8" stroke-width="9.1" stroke-linecap="round" opacity="0.8"/><path d="M765,242 C804,330 806,420 838,510" fill="none" stroke="#bfa3b5" stroke-width="6.0" stroke-linecap="round" opacity="0.8"/><path d="M830,140 C900,150 940,180 950,210" fill="none" stroke="#a98aa2" stroke-width="4.2" stroke-linecap="round" opacity="0.7"/><path d="M850,165 C905,170 935,195 948,235" fill="none" stroke="#a98aa2" stroke-width="4.2" stroke-linecap="round" opacity="0.7"/><path d="M690,204 C700,150 760,112 820,128 C860,140 880,170 876,205 C850,198 800,215 765,242 Z" fill="#f2eadf" opacity="0.95"/></g>
<g transform="translate(330,20) scale(0.16538)"><path d="M500,892 C560,878 640,868 700,890 C760,920 800,980 812,1032 C780,1010 720,990 660,990 C620,985 580,950 560,940 Z" fill="url(#g10)" stroke="#c9e878" stroke-width="6.7" stroke-linejoin="round"/></g>
<g transform="translate(330,20) scale(0.16538)"><path d="M520,1020 C560,985 620,1020 662,1082 C630,1060 580,1040 548,1052 Z" fill="#157a24"/></g>
<g transform="translate(330,20) scale(0.16538)"><path d="M150,1800 C140,1600 135,1400 150,1200 C180,1100 280,1000 400,930 C450,900 500,888 522,892 C560,905 570,960 548,1050 C520,1100 490,1160 470,1230 C430,1380 330,1600 200,1800 Z" fill="url(#g11)" stroke="#c9e878" stroke-width="6.7" stroke-linejoin="round"/><path d="M480,960 C360,1100 260,1300 200,1650" fill="none" stroke="#d6f08e" stroke-width="9.7" stroke-linecap="round" opacity="0.85"/></g>
<g transform="translate(330,20) scale(0.16538)"><path d="M580,1108 C575,1200 470,1300 340,1400 C250,1520 185,1700 172,1900 L186,2221 L232,2071 C290,1960 350,1890 372,1871 C370,1700 400,1520 470,1400 C520,1320 580,1220 586,1128 Z" fill="url(#g12)" stroke="#c9e878" stroke-width="6.7" stroke-linejoin="round"/><path d="M520,1260 C330,1460 230,1700 215,2050" fill="none" stroke="#d6f08e" stroke-width="9.7" stroke-linecap="round" opacity="0.85"/><path d="M545,1250 C400,1450 310,1700 290,1950" fill="none" stroke="#d6f08e" stroke-width="9.7" stroke-linecap="round" opacity="0.85"/></g>
<g transform="translate(330,20) scale(0.16538)"><path d="M372,1873 C370,1700 400,1520 470,1400 C520,1300 580,1200 640,1162 C690,1118 770,1100 832,1152 C848,1300 822,1460 790,1580 C770,1660 730,1740 692,1787 L600,1787 L500,1813 Z" fill="url(#k13)"/><path d="M372,1873 C370,1700 400,1520 470,1400 C520,1300 580,1200 640,1162 C690,1118 770,1100 832,1152 C848,1300 822,1460 790,1580 C770,1660 730,1740 692,1787 L600,1787 L500,1813 Z" fill="url(#c14)"/></g>
<g transform="translate(330,20) scale(0.16538)"><path d="M745,1107 C760,1050 830,1012 880,1034 C950,1060 1010,1140 1036,1220 C1052,1300 1032,1380 990,1412 C940,1424 900,1382 880,1320 C860,1260 850,1200 835,1160 Z" fill="url(#s15)" opacity="0.6"/><path d="M850,1030 C960,1050 1044,1200 986,1378" fill="none" stroke="#b497ab" stroke-width="9.1" stroke-linecap="round" opacity="0.8"/><path d="M848,1043 C957,1069 1038,1212 987,1412" fill="none" stroke="#d6c2cc" stroke-width="6.0" stroke-linecap="round" opacity="0.8"/><path d="M847,1056 C954,1088 1032,1224 988,1384" fill="none" stroke="#a4859d" stroke-width="6.0" stroke-linecap="round" opacity="0.8"/><path d="M846,1069 C929,1107 990,1236 959,1418" fill="none" stroke="#e6d8d8" stroke-width="9.1" stroke-linecap="round" opacity="0.8"/><path d="M844,1082 C926,1126 984,1248 960,1390" fill="none" stroke="#bfa3b5" stroke-width="6.0" stroke-linecap="round" opacity="0.8"/><path d="M842,1095 C923,1145 978,1260 961,1424" fill="none" stroke="#9c7f97" stroke-width="6.0" stroke-linecap="round" opacity="0.8"/><path d="M841,1108 C898,1164 936,1272 932,1396" fill="none" stroke="#b497ab" stroke-width="9.1" stroke-linecap="round" opacity="0.8"/><path d="M840,1121 C895,1183 930,1284 933,1368" fill="none" stroke="#d6c2cc" stroke-width="6.0" stroke-linecap="round" opacity="0.8"/><path d="M838,1134 C892,1202 924,1296 934,1402" fill="none" stroke="#a4859d" stroke-width="6.0" stroke-linecap="round" opacity="0.8"/><path d="M836,1147 C867,1221 883,1308 904,1374" fill="none" stroke="#e6d8d8" stroke-width="9.1" stroke-linecap="round" opacity="0.8"/><path d="M835,1160 C864,1240 876,1320 906,1408" fill="none" stroke="#bfa3b5" stroke-width="6.0" stroke-linecap="round" opacity="0.8"/><path d="M880,1040 C950,1050 1000,1080 1020,1110" fill="none" stroke="#a98aa2" stroke-width="4.2" stroke-linecap="round" opacity="0.7"/><path d="M900,1065 C960,1075 1000,1100 1025,1140" fill="none" stroke="#a98aa2" stroke-width="4.2" stroke-linecap="round" opacity="0.7"/><path d="M745,1107 C760,1050 830,1012 880,1034 C920,1048 940,1080 935,1110 C900,1105 860,1125 835,1160 Z" fill="#f2eadf" opacity="0.95"/></g>
<g transform="translate(150,60) scale(0.16538)"><path d="M620,1012 C660,960 700,925 760,935 C850,945 900,958 942,982 C1000,1100 1080,1300 1110,1420 L1040,1440 C960,1380 860,1270 760,1200 C700,1130 650,1070 620,1012 Z" fill="url(#g16)" stroke="#c9e878" stroke-width="6.7" stroke-linejoin="round"/></g>
<g transform="translate(150,60) scale(0.16538)"><path d="M680,1000 C800,1080 920,1220 1020,1380" fill="none" stroke="#c0e46c" stroke-width="4.8" stroke-linecap="round" opacity="0.6"/><path d="M740,970 C860,1060 960,1200 1060,1360" fill="none" stroke="#c0e46c" stroke-width="4.8" stroke-linecap="round" opacity="0.6"/><path d="M650,1040 C760,1120 860,1240 960,1380" fill="none" stroke="#c0e46c" stroke-width="4.8" stroke-linecap="round" opacity="0.6"/><path d="M800,960 C900,1040 1000,1180 1080,1330" fill="none" stroke="#c0e46c" stroke-width="4.8" stroke-linecap="round" opacity="0.6"/></g>
<g transform="translate(150,60) scale(0.16538)"><path d="M415,1228 C410,1100 450,1010 520,960 C580,925 650,915 702,925 C660,960 620,1010 580,1070 C540,1130 510,1180 492,1222 Z" fill="url(#g17)" stroke="#c9e878" stroke-width="6.7" stroke-linejoin="round"/><path d="M440,1200 C450,1090 520,990 640,935" fill="none" stroke="#d6f08e" stroke-width="9.7" stroke-linecap="round" opacity="0.85"/></g>
<g transform="translate(150,60) scale(0.16538)"><path d="M445,876 C520,770 620,690 720,652 C800,640 900,645 960,662 C1060,740 1150,880 1200,962 C1235,1100 1258,1300 1264,1625 C1230,1570 1160,1450 1080,1300 C1040,1180 980,1060 940,980 C910,880 860,790 790,742 C700,735 600,770 445,876 Z" fill="url(#g18)" stroke="#c9e878" stroke-width="6.7" stroke-linejoin="round"/><path d="M930,700 C1040,820 1120,1000 1170,1250" fill="none" stroke="#d6f08e" stroke-width="9.7" stroke-linecap="round" opacity="0.85"/><path d="M850,680 C980,800 1060,980 1120,1200" fill="none" stroke="#d6f08e" stroke-width="9.7" stroke-linecap="round" opacity="0.85"/></g>
<g transform="translate(150,60) scale(0.16538)"><path d="M445,876 C520,780 620,700 720,668 C780,670 830,720 856,790 C800,745 740,735 680,745 C600,770 520,820 445,876 Z" fill="#187d25"/></g>
<g transform="translate(330,250) scale(0.16538)"><path d="M590,396 C680,384 780,400 832,452 C892,540 912,700 902,858 C872,760 800,600 690,490 C660,440 620,410 590,396 Z" fill="url(#g19)" stroke="#c9e878" stroke-width="6.7" stroke-linejoin="round"/><path d="M640,410 C760,470 860,640 890,800" fill="none" stroke="#d6f08e" stroke-width="9.7" stroke-linecap="round" opacity="0.85"/></g>
<g transform="translate(330,250) scale(0.16538)"><path d="M185,832 C200,700 280,560 380,482 C460,430 560,396 640,396 C682,402 692,442 672,502 C620,600 520,720 420,802 C340,862 260,902 205,908 Z" fill="url(#g20)" stroke="#c9e878" stroke-width="6.7" stroke-linejoin="round"/></g>
<g transform="translate(330,250) scale(0.16538)"><path d="M215,860 C300,700 440,520 620,430" fill="none" stroke="#bfe36a" stroke-width="4.8" stroke-linecap="round" opacity="0.55"/><path d="M230,880 C340,760 500,600 650,470" fill="none" stroke="#bfe36a" stroke-width="4.8" stroke-linecap="round" opacity="0.55"/><path d="M200,820 C260,660 380,520 520,440" fill="none" stroke="#bfe36a" stroke-width="4.8" stroke-linecap="round" opacity="0.55"/><path d="M260,885 C380,800 540,660 660,520" fill="none" stroke="#bfe36a" stroke-width="4.8" stroke-linecap="round" opacity="0.55"/></g>
<g transform="translate(100,240) scale(0.16538)"><path d="M100,915 C140,760 240,560 400,360 C520,230 680,140 850,130 C950,130 1040,170 1100,170 C1160,160 1220,140 1270,160 C1360,200 1470,360 1549,531 C1554,566 1542,592 1512,596 C1488,590 1474,560 1466,500 C1440,430 1380,350 1300,332 C1200,320 1100,360 1000,386 C800,420 600,470 440,550 C300,630 180,780 100,915 Z" fill="url(#g21)"/><path d="M1549,531 C1470,360 1360,200 1270,160 C1220,140 1160,160 1100,170 C1040,170 950,130 850,130 C680,140 520,230 400,360 C240,560 140,760 100,915 C180,780 300,630 440,550 C600,470 800,420 1000,386 C1100,360 1200,320 1300,332 C1380,350 1440,430 1466,500" fill="none" stroke="#c9e878" stroke-width="6.7" stroke-linejoin="round" stroke-linecap="round"/><path d="M150,800 C260,560 460,400 760,320 C900,280 1040,250 1180,230" fill="none" stroke="#d6f08e" stroke-width="9.7" stroke-linecap="round" opacity="0.85"/></g>
<g transform="translate(100,240) scale(0.16538)"><path d="M255,1050 C300,940 420,790 560,660 C680,580 800,540 900,535 C1050,530 1200,570 1300,640 C1340,690 1360,730 1400,760 C1480,800 1560,850 1600,962 C1520,927 1420,927 1340,937 C1260,952 1180,972 1120,967 C1060,960 1000,900 940,870 C860,820 760,790 660,810 C520,840 380,940 255,1050 Z" fill="url(#g22)" stroke="#c9e878" stroke-width="6.7" stroke-linejoin="round"/><path d="M330,960 C460,780 640,640 860,600 C1000,590 1150,620 1280,690" fill="none" stroke="#d6f08e" stroke-width="9.7" stroke-linecap="round" opacity="0.85"/></g>
<g transform="translate(100,240) scale(0.16538)"><path d="M745,925 C760,890 830,868 900,880 C960,895 1040,980 1100,1060 C1180,1170 1240,1300 1265,1420 L1285,1570 L985,1570 C900,1420 820,1260 780,1120 C755,1040 745,980 745,925 Z" fill="url(#k23)"/><path d="M745,925 C760,890 830,868 900,880 C960,895 1040,980 1100,1060 C1180,1170 1240,1300 1265,1420 L1285,1570 L985,1570 C900,1420 820,1260 780,1120 C755,1040 745,980 745,925 Z" fill="url(#c24)"/></g>
<g transform="translate(100,240) scale(0.16538)"><path d="M800,876 C780,820 720,795 670,810 C620,830 580,900 555,980 C540,1060 570,1140 620,1180 C680,1200 720,1180 735,1120 C745,1060 740,990 745,925 Z" fill="url(#s25)" opacity="0.6"/><path d="M690,805 C580,850 504,1010 586,1153" fill="none" stroke="#b497ab" stroke-width="9.1" stroke-linecap="round" opacity="0.8"/><path d="M696,817 C601,865 536,1018 609,1188" fill="none" stroke="#d6c2cc" stroke-width="6.0" stroke-linecap="round" opacity="0.8"/><path d="M701,829 C622,880 569,1026 633,1159" fill="none" stroke="#a4859d" stroke-width="6.0" stroke-linecap="round" opacity="0.8"/><path d="M706,841 C621,895 566,1034 625,1194" fill="none" stroke="#e6d8d8" stroke-width="9.1" stroke-linecap="round" opacity="0.8"/><path d="M712,853 C642,910 598,1042 649,1165" fill="none" stroke="#bfa3b5" stroke-width="6.0" stroke-linecap="round" opacity="0.8"/><path d="M718,865 C663,925 630,1050 672,1200" fill="none" stroke="#9c7f97" stroke-width="6.0" stroke-linecap="round" opacity="0.8"/><path d="M723,877 C662,940 627,1058 665,1171" fill="none" stroke="#b497ab" stroke-width="9.1" stroke-linecap="round" opacity="0.8"/><path d="M728,889 C683,955 660,1066 688,1142" fill="none" stroke="#d6c2cc" stroke-width="6.0" stroke-linecap="round" opacity="0.8"/><path d="M734,901 C704,970 692,1074 712,1177" fill="none" stroke="#a4859d" stroke-width="6.0" stroke-linecap="round" opacity="0.8"/><path d="M740,913 C703,985 689,1082 704,1148" fill="none" stroke="#e6d8d8" stroke-width="9.1" stroke-linecap="round" opacity="0.8"/><path d="M745,925 C724,1000 721,1090 728,1183" fill="none" stroke="#bfa3b5" stroke-width="6.0" stroke-linecap="round" opacity="0.8"/><path d="M660,820 C600,850 560,900 555,930" fill="none" stroke="#a98aa2" stroke-width="4.2" stroke-linecap="round" opacity="0.7"/><path d="M650,850 C600,870 575,905 560,950" fill="none" stroke="#a98aa2" stroke-width="4.2" stroke-linecap="round" opacity="0.7"/><path d="M800,876 C780,820 720,795 670,810 C645,825 640,860 655,885 C690,880 720,895 745,925 Z" fill="#f2eadf" opacity="0.95"/></g>
<g transform="translate(100,240) scale(0.16538)"><path d="M995,858 C1020,950 1140,1050 1280,1180 C1380,1280 1440,1420 1480,1560 L1285,1570 C1260,1400 1200,1200 1100,1060 C1050,1000 1010,950 995,858 Z" fill="url(#g26)" stroke="#c9e878" stroke-width="6.7" stroke-linejoin="round"/><path d="M1030,960 C1160,1100 1300,1300 1370,1520" fill="none" stroke="#d6f08e" stroke-width="9.7" stroke-linecap="round" opacity="0.85"/></g>
<g transform="translate(330,250) scale(0.16538)"><path d="M130,1392 C190,1320 300,1200 440,1105 C500,1108 570,1170 612,1216 C560,1222 500,1232 350,1312 C280,1345 200,1380 90,1418 Z" fill="#0f7a22"/></g>
<g transform="translate(330,250) scale(0.16538)"><path d="M90,1402 C200,1280 330,1130 450,1030 C520,985 600,968 720,940 C780,940 850,955 950,1010 C1050,1100 1180,1180 1280,1280 C1340,1380 1370,1560 1377,1741 C1330,1640 1250,1530 1120,1400 C1000,1330 850,1280 700,1262 C650,1240 610,1216 570,1170 C530,1120 480,1100 440,1105 C330,1170 200,1300 90,1418 Z" fill="url(#g27)" stroke="#c9e878" stroke-width="6.7" stroke-linejoin="round"/><path d="M600,985 C800,1020 1000,1180 1180,1300 C1280,1400 1340,1540 1365,1680" fill="none" stroke="#d6f08e" stroke-width="9.7" stroke-linecap="round" opacity="0.85"/></g>
<g transform="translate(90,480) scale(0.16538)"><path d="M1130,370 C1200,300 1280,250 1340,250 C1420,290 1500,380 1560,470 L1640,545 L1632,614 C1590,600 1530,590 1480,595 C1430,602 1380,598 1350,590 C1300,550 1200,450 1130,370 Z" fill="#2a9430"/><path d="M1230,300 C1300,370 1360,470 1400,520 C1450,570 1540,585 1622,590" fill="none" stroke="#1a7a25" stroke-width="9"/></g>
<g transform="translate(90,480) scale(0.16538)"><path d="M815,915 C790,780 745,600 725,420 C722,340 740,260 800,190 C870,130 1000,85 1120,75 C1200,95 1330,170 1430,270 C1480,330 1530,420 1560,470 C1500,380 1420,290 1330,250 C1270,255 1200,300 1130,370 C1050,460 950,620 870,790 C850,840 830,880 815,915 Z" fill="url(#g28)" stroke="#c9e878" stroke-width="6.7" stroke-linejoin="round"/><path d="M1090,100 C1000,200 900,340 850,480 C825,600 830,760 820,870" fill="none" stroke="#d6f08e" stroke-width="9.7" stroke-linecap="round" opacity="0.85"/></g>
<g transform="translate(330,480) scale(0.16538)"><path d="M40,990 C100,960 170,930 220,910 C270,885 330,858 420,840 C470,845 520,890 570,930 C620,965 680,978 740,975 C800,970 870,955 950,970 C1030,1000 1100,1060 1150,1100 C1230,1170 1290,1260 1320,1300 C1390,1390 1460,1480 1521,1556 C1490,1440 1465,1340 1450,1250 C1440,1180 1420,1080 1380,990 C1330,920 1230,800 1150,730 C1060,670 930,600 850,570 C760,540 650,500 560,490 C500,488 430,510 380,540 C330,590 280,660 240,720 C200,790 150,860 100,900 C70,930 50,950 40,960 Z" fill="url(#g29)" stroke="#c9e878" stroke-width="6.7" stroke-linejoin="round"/><path d="M290,665 C400,615 600,645 800,720 C1000,800 1150,900 1300,1080 C1380,1200 1440,1340 1480,1460" fill="none" stroke="#d6f08e" stroke-width="9.7" stroke-linecap="round" opacity="0.85"/><path d="M45,985 C110,950 170,925 230,900" fill="none" stroke="#d6f08e" stroke-width="9.7" stroke-linecap="round" opacity="0.85"/></g>
<g transform="translate(90,720) scale(0.16538)"><path d="M1350,-10 C1360,100 1370,180 1420,260 C1450,300 1480,330 1500,346 L1548,340 L1540,-10 Z" fill="#1f8a2c"/></g>
<g transform="translate(90,480) scale(0.16538)"><path d="M65,1841 C150,1720 210,1600 240,1480 C255,1400 290,1345 420,1260 C520,1190 600,1100 700,1050 C780,1020 900,1035 1040,1005 C1120,995 1200,1040 1280,1120 C1360,1210 1440,1350 1500,1470 C1530,1560 1556,1660 1552,1748 L1492,1792 C1460,1700 1400,1560 1330,1480 C1260,1400 1180,1330 1080,1305 C1000,1300 860,1350 700,1390 C600,1400 500,1430 440,1480 C360,1530 280,1660 180,1770 C140,1800 100,1825 65,1841 Z" fill="url(#g30)" stroke="#c9e878" stroke-width="6.7" stroke-linejoin="round"/><path d="M120,1790 C230,1660 290,1530 420,1420 C560,1330 680,1200 800,1130 C950,1090 1100,1100 1250,1200 C1380,1330 1470,1480 1540,1640" fill="none" stroke="#d6f08e" stroke-width="9.7" stroke-linecap="round" opacity="0.85"/></g>
<g transform="translate(90,720) scale(0.16538)"><path d="M55,1110 C50,1050 90,990 130,950 C200,900 300,850 350,800 C400,740 450,680 520,640 C600,610 760,598 860,600 C960,610 1050,650 1100,690 C1200,770 1280,870 1340,980 C1400,1090 1460,1200 1540,1310 L1600,1420 L1650,1524 L1492,1524 C1474,1440 1400,1290 1320,1170 C1260,1080 1160,970 1100,930 C1040,880 950,820 870,815 C800,820 740,860 680,900 C620,950 560,985 480,995 C400,1005 300,990 250,1000 C180,1010 110,1050 55,1110 Z" fill="url(#g31)" stroke="#c9e878" stroke-width="6.7" stroke-linejoin="round"/><path d="M80,1075 C200,960 380,900 520,770 C640,690 800,665 900,670 C1050,690 1200,790 1320,960 C1380,1060 1440,1180 1500,1290" fill="none" stroke="#d6f08e" stroke-width="9.7" stroke-linecap="round" opacity="0.85"/></g>
<g transform="translate(330,480) scale(0.16538)"><path d="M685,1080 C670,1160 540,1250 400,1370 C330,1440 280,1520 250,1600 C220,1700 200,1850 190,1990 L215,2010 C240,1900 300,1780 340,1720 C390,1640 400,1560 430,1512 C480,1400 580,1260 690,1150 Z" fill="url(#g32)" stroke="#c9e878" stroke-width="6.7" stroke-linejoin="round"/><path d="M640,1170 C480,1320 320,1500 250,1750" fill="none" stroke="#d6f08e" stroke-width="9.7" stroke-linecap="round" opacity="0.85"/><path d="M660,1175 C520,1330 400,1480 330,1690" fill="none" stroke="#d6f08e" stroke-width="9.7" stroke-linecap="round" opacity="0.85"/></g>
<g transform="translate(330,480) scale(0.16538)"><path d="M690,1150 C760,1112 840,1098 900,1110 C925,1120 937,1135 935,1150 C930,1250 900,1360 860,1470 C820,1560 760,1680 700,1740 L640,1770 L380,1660 C390,1560 480,1390 580,1260 C620,1210 660,1170 690,1150 Z" fill="url(#k33)"/><path d="M690,1150 C760,1112 840,1098 900,1110 C925,1120 937,1135 935,1150 C930,1250 900,1360 860,1470 C820,1560 760,1680 700,1740 L640,1770 L380,1660 C390,1560 480,1390 580,1260 C620,1210 660,1170 690,1150 Z" fill="url(#c34)"/></g>
<g transform="translate(330,480) scale(0.16538)"><path d="M880,1105 C890,1060 940,1030 990,1040 C1050,1060 1100,1150 1120,1250 C1130,1330 1110,1400 1070,1425 C1020,1440 970,1410 950,1350 C935,1280 940,1200 935,1150 Z" fill="url(#s35)" opacity="0.6"/><path d="M990,1045 C1090,1100 1134,1280 1066,1393" fill="none" stroke="#b497ab" stroke-width="9.1" stroke-linecap="round" opacity="0.8"/><path d="M983,1058 C1079,1116 1121,1284 1063,1424" fill="none" stroke="#d6c2cc" stroke-width="6.0" stroke-linecap="round" opacity="0.8"/><path d="M976,1071 C1067,1132 1108,1288 1060,1392" fill="none" stroke="#a4859d" stroke-width="6.0" stroke-linecap="round" opacity="0.8"/><path d="M969,1084 C1034,1149 1060,1291 1026,1423" fill="none" stroke="#e6d8d8" stroke-width="9.1" stroke-linecap="round" opacity="0.8"/><path d="M962,1098 C1022,1165 1048,1295 1022,1391" fill="none" stroke="#bfa3b5" stroke-width="6.0" stroke-linecap="round" opacity="0.8"/><path d="M956,1111 C1011,1181 1035,1299 1019,1422" fill="none" stroke="#9c7f97" stroke-width="6.0" stroke-linecap="round" opacity="0.8"/><path d="M949,1124 C978,1198 987,1302 985,1390" fill="none" stroke="#b497ab" stroke-width="9.1" stroke-linecap="round" opacity="0.8"/><path d="M942,1137 C966,1214 974,1306 982,1358" fill="none" stroke="#d6c2cc" stroke-width="6.0" stroke-linecap="round" opacity="0.8"/><path d="M935,1150 C955,1230 961,1310 979,1389" fill="none" stroke="#a4859d" stroke-width="6.0" stroke-linecap="round" opacity="0.8"/><path d="M1000,1050 C1060,1060 1090,1080 1100,1100" fill="none" stroke="#a98aa2" stroke-width="4.2" stroke-linecap="round" opacity="0.7"/><path d="M1020,1075 C1075,1090 1100,1110 1115,1140" fill="none" stroke="#a98aa2" stroke-width="4.2" stroke-linecap="round" opacity="0.7"/><path d="M880,1105 C890,1060 940,1030 990,1040 C1030,1055 1045,1090 1040,1125 C1000,1115 960,1125 935,1150 Z" fill="#f2eadf" opacity="0.95"/></g>
<g transform="translate(330,720) scale(0.16538)"><path d="M380,672 C460,600 580,480 662,402 L620,335 C560,370 480,460 420,560 Z" fill="#2a9430"/></g>
<g transform="translate(330,720) scale(0.16538)"><path d="M615,330 C680,300 760,330 820,400 C860,480 865,580 850,660 C840,720 830,760 820,786 C800,700 760,560 700,440 C670,390 640,350 615,330 Z" fill="url(#g36)" stroke="#c9e878" stroke-width="6.7" stroke-linejoin="round"/><path d="M660,350 C740,420 800,560 825,720" fill="none" stroke="#d6f08e" stroke-width="9.7" stroke-linecap="round" opacity="0.85"/></g>
<g transform="translate(330,720) scale(0.16538)"><path d="M30,912 C120,780 180,660 200,560 C220,450 300,320 440,180 C540,90 640,20 700,-11 C740,-20 780,-18 800,-11 C880,10 1000,45 1100,61 C1180,85 1260,160 1330,260 C1380,340 1420,440 1435,495 C1390,420 1300,330 1200,250 C1130,200 1060,165 1000,165 C930,165 860,185 800,215 C730,255 660,300 600,340 C530,400 460,500 420,560 C380,630 320,720 260,780 C200,830 120,880 50,942 Z" fill="url(#g37)" stroke="#c9e878" stroke-width="6.7" stroke-linejoin="round"/><path d="M60,905 C180,700 280,520 400,370 C440,320 480,280 520,250" fill="none" stroke="#d6f08e" stroke-width="9.7" stroke-linecap="round" opacity="0.85"/><path d="M660,160 C760,105 860,65 950,45" fill="none" stroke="#d6f08e" stroke-width="9.7" stroke-linecap="round" opacity="0.85"/></g></g>
<g><line x1="1869.4" y1="894.4" x2="2867" y2="465.1" stroke="#000" stroke-width="6.2" stroke-dasharray="6.2 19.1"/>
<path d="M1934.1,833.5V898.0M1914.6,833.5h39M1914.6,898.0h39" stroke="#000" stroke-width="6.1" fill="none"/>
<circle cx="1934.1" cy="865.0" r="14" fill="#000"/>
<path d="M1977.6,756.0V885.5M1958.1,756.0h39M1958.1,885.5h39" stroke="#000" stroke-width="6.1" fill="none"/>
<circle cx="1977.6" cy="820.5" r="14" fill="#000"/>
<path d="M2064.5,812.0V876.0M2045.0,812.0h39M2045.0,876.0h39" stroke="#000" stroke-width="6.1" fill="none"/>
<circle cx="2064.5" cy="844.0" r="14" fill="#000"/>
<path d="M2151.4,729.5V795.5M2131.9,729.5h39M2131.9,795.5h39" stroke="#000" stroke-width="6.1" fill="none"/>
<circle cx="2151.4" cy="762.5" r="14" fill="#000"/>
<path d="M2260.1,644.0V800.5M2240.6,644.0h39M2240.6,800.5h39" stroke="#000" stroke-width="6.1" fill="none"/>
<circle cx="2260.1" cy="722.0" r="14" fill="#000"/>
<path d="M2368.8,665.5V853.5M2349.3,665.5h39M2349.3,853.5h39" stroke="#000" stroke-width="6.1" fill="none"/>
<circle cx="2368.8" cy="760.0" r="14" fill="#000"/>
<path d="M2586.2,557.0V636.5M2566.7,557.0h39M2566.7,636.5h39" stroke="#000" stroke-width="6.1" fill="none"/>
<circle cx="2586.2" cy="597.0" r="14" fill="#000"/>
<path d="M2803.5,375.0V499.0M2784.0,375.0h39M2784.0,499.0h39" stroke="#000" stroke-width="6.1" fill="none"/>
<circle cx="2803.5" cy="438.0" r="14" fill="#000"/>
<path d="M1869.5,57.2V1030.9H2868.7" stroke="#000" stroke-width="6.1" fill="none" stroke-linejoin="miter" stroke-linecap="butt"/>
<line x1="1851.5" y1="986.5" x2="1869.5" y2="986.5" stroke="#333" stroke-width="5.8"/>
<text transform="translate(1839.5,1015.6) scale(1,1.035)" text-anchor="end" class="tk">0.0</text>
<line x1="1851.5" y1="765.2" x2="1869.5" y2="765.2" stroke="#333" stroke-width="5.8"/>
<text transform="translate(1839.5,794.3) scale(1,1.035)" text-anchor="end" class="tk">0.5</text>
<line x1="1851.5" y1="544.0" x2="1869.5" y2="544.0" stroke="#333" stroke-width="5.8"/>
<text transform="translate(1839.5,573.1) scale(1,1.035)" text-anchor="end" class="tk">1.0</text>
<line x1="1851.5" y1="322.8" x2="1869.5" y2="322.8" stroke="#333" stroke-width="5.8"/>
<text transform="translate(1839.5,351.9) scale(1,1.035)" text-anchor="end" class="tk">1.5</text>
<line x1="1851.5" y1="101.6" x2="1869.5" y2="101.6" stroke="#333" stroke-width="5.8"/>
<text transform="translate(1839.5,130.7) scale(1,1.035)" text-anchor="end" class="tk">2.0</text>
<line x1="1934.1" y1="1030.9" x2="1934.1" y2="1049.0" stroke="#333" stroke-width="5.8"/>
<text transform="translate(1934.1,1119.7) scale(1,1.035)" text-anchor="middle" class="tk">0</text>
<line x1="2151.4" y1="1030.9" x2="2151.4" y2="1049.0" stroke="#333" stroke-width="5.8"/>
<text transform="translate(2151.4,1119.7) scale(1,1.035)" text-anchor="middle" class="tk">50</text>
<line x1="2368.8" y1="1030.9" x2="2368.8" y2="1049.0" stroke="#333" stroke-width="5.8"/>
<text transform="translate(2368.8,1119.7) scale(1,1.035)" text-anchor="middle" class="tk">100</text>
<line x1="2586.2" y1="1030.9" x2="2586.2" y2="1049.0" stroke="#333" stroke-width="5.8"/>
<text transform="translate(2586.2,1119.7) scale(1,1.035)" text-anchor="middle" class="tk">150</text>
<line x1="2803.5" y1="1030.9" x2="2803.5" y2="1049.0" stroke="#333" stroke-width="5.8"/>
<text transform="translate(2803.5,1119.7) scale(1,1.035)" text-anchor="middle" class="tk">200</text>
<text transform="translate(2360.0,1215.7) scale(1,1.03)" text-anchor="middle" class="ax">Application rate</text>
<text transform="translate(2378.0,1280.1) scale(1,1.03)" text-anchor="middle" class="ax">(t basalt ha<tspan dy="-10">-1</tspan><tspan dy="10">)</tspan></text>
<text transform="translate(1695.5,544.1) rotate(-90) scale(1,1.03)" text-anchor="middle" class="ax">TA (mEq/L)</text>
<text x="1647.5" y="113.7" class="pl">A</text>
<text transform="translate(2496.5,120.4) scale(1,1.045)" class="pv">P&lt;0.01</text></g>
<g><line x1="3142.8" y1="933.2" x2="4142" y2="480.1" stroke="#000" stroke-width="6.2" stroke-dasharray="6.2 19.1"/>
<path d="M3193.5,882.6V914.0M3174.0,882.6h39M3174.0,914.0h39" stroke="#000" stroke-width="6.1" fill="none"/>
<circle cx="3193.5" cy="897.4" r="14" fill="#000"/>
<path d="M3238.0,801.0V872.0M3218.5,801.0h39M3218.5,872.0h39" stroke="#000" stroke-width="6.1" fill="none"/>
<circle cx="3238.0" cy="836.0" r="14" fill="#000"/>
<path d="M3326.9,789.0V871.0M3307.4,789.0h39M3307.4,871.0h39" stroke="#000" stroke-width="6.1" fill="none"/>
<circle cx="3326.9" cy="830.0" r="14" fill="#000"/>
<path d="M3415.9,820.0V863.0M3396.4,820.0h39M3396.4,863.0h39" stroke="#000" stroke-width="6.1" fill="none"/>
<circle cx="3415.9" cy="841.5" r="14" fill="#000"/>
<path d="M3527.1,636.0V801.0M3507.6,636.0h39M3507.6,801.0h39" stroke="#000" stroke-width="6.1" fill="none"/>
<circle cx="3527.1" cy="719.0" r="14" fill="#000"/>
<path d="M3638.2,803.0V889.0M3618.8,803.0h39M3618.8,889.0h39" stroke="#000" stroke-width="6.1" fill="none"/>
<circle cx="3638.2" cy="846.0" r="14" fill="#000"/>
<path d="M3860.6,181.0V689.0M3841.1,181.0h39M3841.1,689.0h39" stroke="#000" stroke-width="6.1" fill="none"/>
<circle cx="3860.6" cy="434.0" r="14" fill="#000"/>
<path d="M4083.0,352.7V669.6M4063.5,352.7h39M4063.5,669.6h39" stroke="#000" stroke-width="6.1" fill="none"/>
<circle cx="4083.0" cy="511.6" r="14" fill="#000"/>
<path d="M3127.2,57.2V1030.9H4149.5" stroke="#000" stroke-width="6.1" fill="none" stroke-linejoin="miter" stroke-linecap="butt"/>
<line x1="3109.1" y1="986.5" x2="3127.2" y2="986.5" stroke="#333" stroke-width="5.8"/>
<text transform="translate(3097.2,1015.6) scale(1,1.035)" text-anchor="end" class="tk">0</text>
<line x1="3109.1" y1="765.2" x2="3127.2" y2="765.2" stroke="#333" stroke-width="5.8"/>
<text transform="translate(3097.2,794.3) scale(1,1.035)" text-anchor="end" class="tk">5</text>
<line x1="3109.1" y1="544.0" x2="3127.2" y2="544.0" stroke="#333" stroke-width="5.8"/>
<text transform="translate(3097.2,573.1) scale(1,1.035)" text-anchor="end" class="tk">10</text>
<line x1="3109.1" y1="322.8" x2="3127.2" y2="322.8" stroke="#333" stroke-width="5.8"/>
<text transform="translate(3097.2,351.9) scale(1,1.035)" text-anchor="end" class="tk">15</text>
<line x1="3109.1" y1="101.6" x2="3127.2" y2="101.6" stroke="#333" stroke-width="5.8"/>
<text transform="translate(3097.2,130.7) scale(1,1.035)" text-anchor="end" class="tk">20</text>
<line x1="3193.5" y1="1030.9" x2="3193.5" y2="1049.0" stroke="#333" stroke-width="5.8"/>
<text transform="translate(3193.5,1119.7) scale(1,1.035)" text-anchor="middle" class="tk">0</text>
<line x1="3415.9" y1="1030.9" x2="3415.9" y2="1049.0" stroke="#333" stroke-width="5.8"/>
<text transform="translate(3415.9,1119.7) scale(1,1.035)" text-anchor="middle" class="tk">50</text>
<line x1="3638.2" y1="1030.9" x2="3638.2" y2="1049.0" stroke="#333" stroke-width="5.8"/>
<text transform="translate(3638.2,1119.7) scale(1,1.035)" text-anchor="middle" class="tk">100</text>
<line x1="3860.6" y1="1030.9" x2="3860.6" y2="1049.0" stroke="#333" stroke-width="5.8"/>
<text transform="translate(3860.6,1119.7) scale(1,1.035)" text-anchor="middle" class="tk">150</text>
<line x1="4083.0" y1="1030.9" x2="4083.0" y2="1049.0" stroke="#333" stroke-width="5.8"/>
<text transform="translate(4083.0,1119.7) scale(1,1.035)" text-anchor="middle" class="tk">200</text>
<text transform="translate(3630.0,1215.7) scale(1,1.03)" text-anchor="middle" class="ax">Application rate</text>
<text transform="translate(3648.0,1280.1) scale(1,1.03)" text-anchor="middle" class="ax">(t basalt ha<tspan dy="-10">-1</tspan><tspan dy="10">)</tspan></text>
<text transform="translate(2953.2,544.1) rotate(-90) scale(1,1.03)" text-anchor="middle" class="ax">DIC (mg/L)</text>
<text x="2930.5" y="113.7" class="pl">B</text>
<text transform="translate(3871.0,120.4) scale(1,1.045)" class="pv">P&lt;0.01</text></g>
<g><path d="M1934.1,2129.9V2164.9M1914.6,2129.9h39M1914.6,2164.9h39" stroke="#000" stroke-width="6.1" fill="none"/>
<circle cx="1934.1" cy="2146.3" r="14" fill="#000"/>
<path d="M1977.6,1938.4V2159.6M1958.1,1938.4h39M1958.1,2159.6h39" stroke="#000" stroke-width="6.1" fill="none"/>
<circle cx="1977.6" cy="2047.2" r="14" fill="#000"/>
<path d="M2064.5,2142.3V2183.9M2045.0,2142.3h39M2045.0,2183.9h39" stroke="#000" stroke-width="6.1" fill="none"/>
<circle cx="2064.5" cy="2163.1" r="14" fill="#000"/>
<path d="M2151.4,2109.2V2150.7M2131.9,2109.2h39M2131.9,2150.7h39" stroke="#000" stroke-width="6.1" fill="none"/>
<circle cx="2151.4" cy="2129.9" r="14" fill="#000"/>
<path d="M2260.1,2136.1V2172.4M2240.6,2136.1h39M2240.6,2172.4h39" stroke="#000" stroke-width="6.1" fill="none"/>
<circle cx="2260.1" cy="2154.3" r="14" fill="#000"/>
<path d="M2368.8,2140.6V2219.8M2349.3,2140.6h39M2349.3,2219.8h39" stroke="#000" stroke-width="6.1" fill="none"/>
<circle cx="2368.8" cy="2179.5" r="14" fill="#000"/>
<path d="M2586.2,2166.7V2211.8M2566.7,2166.7h39M2566.7,2211.8h39" stroke="#000" stroke-width="6.1" fill="none"/>
<circle cx="2586.2" cy="2189.2" r="14" fill="#000"/>
<path d="M2803.5,2122.9V2191.9M2784.0,2122.9h39M2784.0,2191.9h39" stroke="#000" stroke-width="6.1" fill="none"/>
<circle cx="2803.5" cy="2157.8" r="14" fill="#000"/>
<path d="M1869.5,1338.3V2312.0H2868.7" stroke="#000" stroke-width="6.1" fill="none" stroke-linejoin="miter" stroke-linecap="butt"/>
<line x1="1851.5" y1="2267.6" x2="1869.5" y2="2267.6" stroke="#333" stroke-width="5.8"/>
<text transform="translate(1839.5,2296.7) scale(1,1.035)" text-anchor="end" class="tk">0.0</text>
<line x1="1851.5" y1="2046.3" x2="1869.5" y2="2046.3" stroke="#333" stroke-width="5.8"/>
<text transform="translate(1839.5,2075.4) scale(1,1.035)" text-anchor="end" class="tk">0.5</text>
<line x1="1851.5" y1="1825.1" x2="1869.5" y2="1825.1" stroke="#333" stroke-width="5.8"/>
<text transform="translate(1839.5,1854.2) scale(1,1.035)" text-anchor="end" class="tk">1.0</text>
<line x1="1851.5" y1="1603.9" x2="1869.5" y2="1603.9" stroke="#333" stroke-width="5.8"/>
<text transform="translate(1839.5,1633.0) scale(1,1.035)" text-anchor="end" class="tk">1.5</text>
<line x1="1851.5" y1="1382.7" x2="1869.5" y2="1382.7" stroke="#333" stroke-width="5.8"/>
<text transform="translate(1839.5,1411.8) scale(1,1.035)" text-anchor="end" class="tk">2.0</text>
<line x1="1934.1" y1="2312.0" x2="1934.1" y2="2330.1" stroke="#333" stroke-width="5.8"/>
<text transform="translate(1934.1,2400.8) scale(1,1.035)" text-anchor="middle" class="tk">0</text>
<line x1="2151.4" y1="2312.0" x2="2151.4" y2="2330.1" stroke="#333" stroke-width="5.8"/>
<text transform="translate(2151.4,2400.8) scale(1,1.035)" text-anchor="middle" class="tk">50</text>
<line x1="2368.8" y1="2312.0" x2="2368.8" y2="2330.1" stroke="#333" stroke-width="5.8"/>
<text transform="translate(2368.8,2400.8) scale(1,1.035)" text-anchor="middle" class="tk">100</text>
<line x1="2586.2" y1="2312.0" x2="2586.2" y2="2330.1" stroke="#333" stroke-width="5.8"/>
<text transform="translate(2586.2,2400.8) scale(1,1.035)" text-anchor="middle" class="tk">150</text>
<line x1="2803.5" y1="2312.0" x2="2803.5" y2="2330.1" stroke="#333" stroke-width="5.8"/>
<text transform="translate(2803.5,2400.8) scale(1,1.035)" text-anchor="middle" class="tk">200</text>
<text transform="translate(2360.0,2496.8) scale(1,1.03)" text-anchor="middle" class="ax">Application rate</text>
<text transform="translate(2378.0,2561.2) scale(1,1.03)" text-anchor="middle" class="ax">(t basalt ha<tspan dy="-10">-1</tspan><tspan dy="10">)</tspan></text>
<text transform="translate(1695.5,1825.2) rotate(-90) scale(1,1.03)" text-anchor="middle" class="ax">TA (mEq/L)</text>
<text x="1647.5" y="1394.8" class="pl">C</text>
<text transform="translate(2459.0,1491.2) scale(1,1.045)" class="pv">P=0.29</text></g>
<g><path d="M3193.5,2148.1V2203.8M3174.0,2148.1h39M3174.0,2203.8h39" stroke="#000" stroke-width="6.1" fill="none"/>
<circle cx="3193.5" cy="2175.1" r="14" fill="#000"/>
<path d="M3238.0,1938.4V2083.0M3218.5,1938.4h39M3218.5,2083.0h39" stroke="#000" stroke-width="6.1" fill="none"/>
<circle cx="3238.0" cy="2010.5" r="14" fill="#000"/>
<path d="M3326.9,2087.9V2218.9M3307.4,2087.9h39M3307.4,2218.9h39" stroke="#000" stroke-width="6.1" fill="none"/>
<circle cx="3326.9" cy="2153.4" r="14" fill="#000"/>
<path d="M3415.9,2169.3V2195.9M3396.4,2169.3h39M3396.4,2195.9h39" stroke="#000" stroke-width="6.1" fill="none"/>
<circle cx="3415.9" cy="2182.6" r="14" fill="#000"/>
<path d="M3527.1,2218.9V2249.4M3507.6,2218.9h39M3507.6,2249.4h39" stroke="#000" stroke-width="6.1" fill="none"/>
<circle cx="3527.1" cy="2234.6" r="14" fill="#000"/>
<path d="M3638.2,2213.6V2254.7M3618.8,2213.6h39M3618.8,2254.7h39" stroke="#000" stroke-width="6.1" fill="none"/>
<circle cx="3638.2" cy="2234.4" r="14" fill="#000"/>
<path d="M3860.6,2205.6V2236.6M3841.1,2205.6h39M3841.1,2236.6h39" stroke="#000" stroke-width="6.1" fill="none"/>
<circle cx="3860.6" cy="2220.7" r="14" fill="#000"/>
<path d="M4083.0,2173.3V2260.5M4063.5,2173.3h39M4063.5,2260.5h39" stroke="#000" stroke-width="6.1" fill="none"/>
<circle cx="4083.0" cy="2217.1" r="14" fill="#000"/>
<path d="M3127.2,1338.3V2312.0H4149.5" stroke="#000" stroke-width="6.1" fill="none" stroke-linejoin="miter" stroke-linecap="butt"/>
<line x1="3109.1" y1="2267.6" x2="3127.2" y2="2267.6" stroke="#333" stroke-width="5.8"/>
<text transform="translate(3097.2,2296.7) scale(1,1.035)" text-anchor="end" class="tk">0</text>
<line x1="3109.1" y1="2046.3" x2="3127.2" y2="2046.3" stroke="#333" stroke-width="5.8"/>
<text transform="translate(3097.2,2075.4) scale(1,1.035)" text-anchor="end" class="tk">5</text>
<line x1="3109.1" y1="1825.1" x2="3127.2" y2="1825.1" stroke="#333" stroke-width="5.8"/>
<text transform="translate(3097.2,1854.2) scale(1,1.035)" text-anchor="end" class="tk">10</text>
<line x1="3109.1" y1="1603.9" x2="3127.2" y2="1603.9" stroke="#333" stroke-width="5.8"/>
<text transform="translate(3097.2,1633.0) scale(1,1.035)" text-anchor="end" class="tk">15</text>
<line x1="3109.1" y1="1382.7" x2="3127.2" y2="1382.7" stroke="#333" stroke-width="5.8"/>
<text transform="translate(3097.2,1411.8) scale(1,1.035)" text-anchor="end" class="tk">20</text>
<line x1="3193.5" y1="2312.0" x2="3193.5" y2="2330.1" stroke="#333" stroke-width="5.8"/>
<text transform="translate(3193.5,2400.8) scale(1,1.035)" text-anchor="middle" class="tk">0</text>
<line x1="3415.9" y1="2312.0" x2="3415.9" y2="2330.1" stroke="#333" stroke-width="5.8"/>
<text transform="translate(3415.9,2400.8) scale(1,1.035)" text-anchor="middle" class="tk">50</text>
<line x1="3638.2" y1="2312.0" x2="3638.2" y2="2330.1" stroke="#333" stroke-width="5.8"/>
<text transform="translate(3638.2,2400.8) scale(1,1.035)" text-anchor="middle" class="tk">100</text>
<line x1="3860.6" y1="2312.0" x2="3860.6" y2="2330.1" stroke="#333" stroke-width="5.8"/>
<text transform="translate(3860.6,2400.8) scale(1,1.035)" text-anchor="middle" class="tk">150</text>
<line x1="4083.0" y1="2312.0" x2="4083.0" y2="2330.1" stroke="#333" stroke-width="5.8"/>
<text transform="translate(4083.0,2400.8) scale(1,1.035)" text-anchor="middle" class="tk">200</text>
<text transform="translate(3630.0,2496.8) scale(1,1.03)" text-anchor="middle" class="ax">Application rate</text>
<text transform="translate(3648.0,2561.2) scale(1,1.03)" text-anchor="middle" class="ax">(t basalt ha<tspan dy="-10">-1</tspan><tspan dy="10">)</tspan></text>
<text transform="translate(2953.2,1825.2) rotate(-90) scale(1,1.03)" text-anchor="middle" class="ax">DIC (mg/L)</text>
<text x="2930.5" y="1394.8" class="pl">D</text>
<text transform="translate(3850.0,1491.2) scale(1,1.045)" class="pv">P=0.08</text></g>
</svg></body></html>
